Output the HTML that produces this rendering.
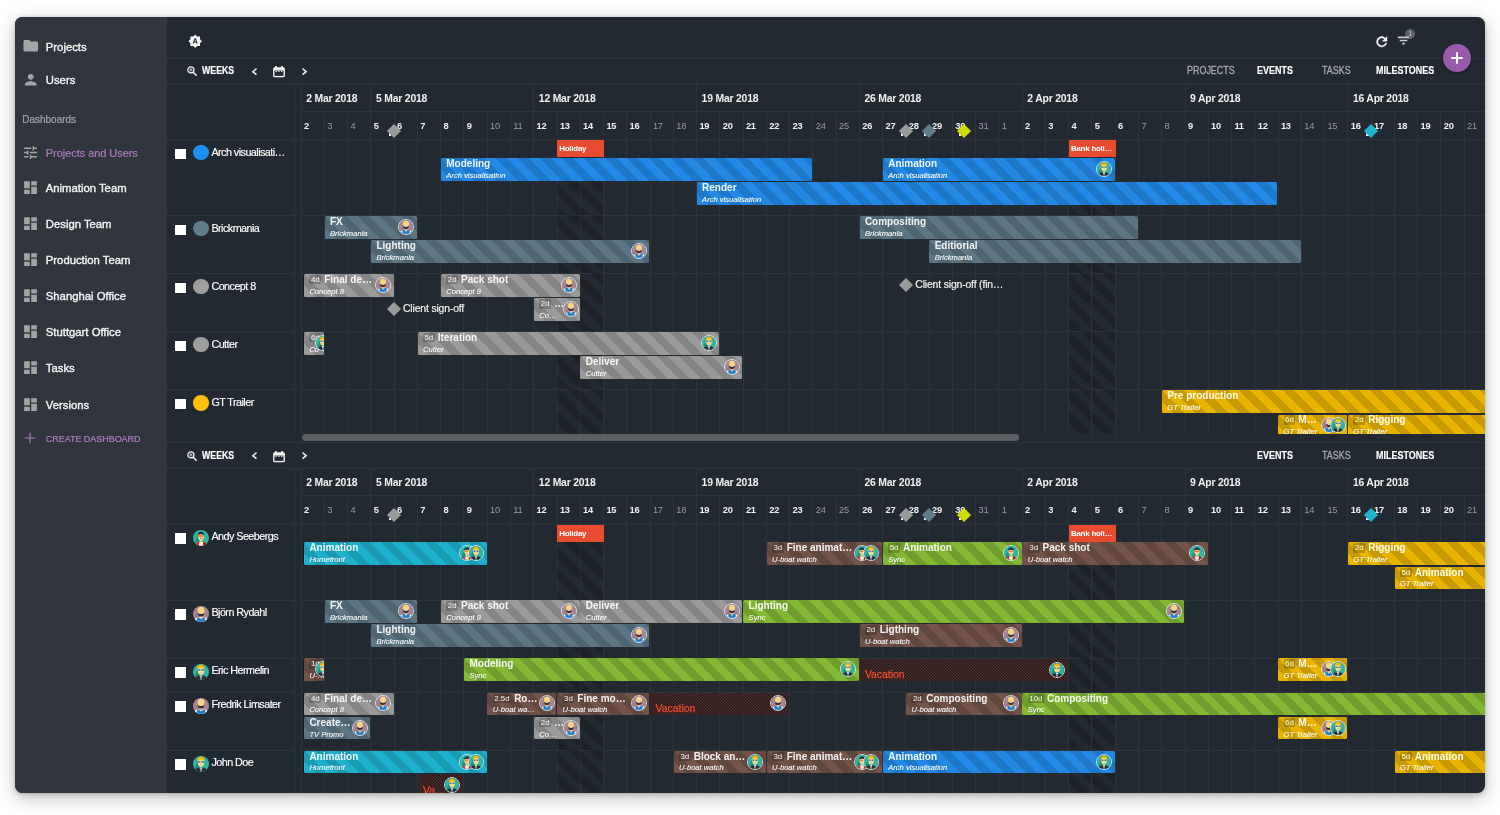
<!DOCTYPE html>
<html lang="en"><head><meta charset="utf-8"><title>Projects and Users</title>
<style>
*{box-sizing:border-box;margin:0;padding:0}
html,body{width:1500px;height:815px;background:#fff;overflow:hidden}
body{font-family:"Liberation Sans",sans-serif;color:#fff;position:relative}
.win{position:absolute;left:15px;top:17px;width:1470px;height:776px;border-radius:7.5px;background:#232930;overflow:hidden;box-shadow:0 5px 18px rgba(0,0,0,.26),0 1px 4px rgba(0,0,0,.2)}
.in{position:absolute;left:-15px;top:-17px;width:1500px;height:815px}
.a{position:absolute}
.side{position:absolute;left:15px;top:17px;width:152px;height:776px;background:#31363e}
.nav{position:absolute;left:45.8px;font-size:11.3px;font-weight:400;color:#f4f4f4;white-space:nowrap;letter-spacing:0;line-height:14px;-webkit-text-stroke:.35px #f4f4f4}
.nav.p{color:#b07cc4;font-size:11px;letter-spacing:-.05px;-webkit-text-stroke:.15px #b07cc4}
.nav.c{color:#b07cc4;font-size:8.95px;letter-spacing:0;-webkit-text-stroke:.2px #b07cc4}
.ico{position:absolute;fill:#a4a4a4}
.hl{position:absolute;height:1px;background:#2d333a}
.vl{position:absolute;width:1px;background:#2d333a}
.wk{position:absolute;font-size:10.4px;font-weight:700;color:#f0f0f0;white-space:nowrap;letter-spacing:-.2px;line-height:14px}
.dn{position:absolute;font-size:9.3px;font-weight:700;color:#f0f0f0;white-space:nowrap;line-height:12px;letter-spacing:-.2px}
.dn.w{color:#9b9b9b;font-weight:400}
.tb{position:absolute;font-size:10.2px;font-weight:700;white-space:nowrap;line-height:12px;letter-spacing:0;color:#fff;transform:scaleX(.88);transform-origin:0 50%;-webkit-text-stroke:.15px #fff}
.tb.g{color:#a6a9ad;font-weight:400;letter-spacing:0;font-size:10px;-webkit-text-stroke:.3px #a6a9ad;transform:scaleX(.895)}
.lab{position:absolute;left:211.4px;font-size:10.8px;color:#fff;white-space:nowrap;line-height:14px;letter-spacing:-.55px;-webkit-text-stroke:.15px #fff}
.cb{position:absolute;left:175.2px;width:10.6px;height:10.6px;background:#fff}
.dot{position:absolute;left:193px;width:15.6px;height:15.6px;border-radius:50%}
.bar{position:absolute;height:22.6px;border-radius:1.5px;overflow:hidden;white-space:nowrap}
.bar .t{position:absolute;left:5.4px;top:-1.1px;font-size:10px;font-weight:700;line-height:13px;color:rgba(255,255,255,.93);letter-spacing:0}
.bar .s{position:absolute;left:5.4px;top:12.7px;font-size:7.6px;font-style:italic;line-height:9px;color:rgba(255,255,255,.95);letter-spacing:0;-webkit-text-stroke:.12px rgba(255,255,255,.9)}
.bar .b{display:inline-block;font-size:7.9px;font-weight:400;background:rgba(0,0,0,.2);border-radius:1.5px;padding:0 1.5px;margin-right:3px;vertical-align:1px;line-height:9.5px;letter-spacing:0}
.av{position:absolute;top:2.9px;width:16px;height:16px;border-radius:50%;border:.9px solid rgba(226,238,246,.86);overflow:hidden}
.av svg,.dot svg{display:block;width:100%;height:100%}
.ev{position:absolute;height:17.2px;background:#e74b30;font-size:7.9px;font-weight:700;color:#fff;line-height:17px;padding-left:2px;white-space:nowrap;overflow:hidden;letter-spacing:-.2px}
.hol{position:absolute;overflow:hidden}
.hol i{position:absolute;left:0;top:0;width:100%;height:87.56px;background:repeating-linear-gradient(45deg,rgba(0,0,0,0) 0,rgba(0,0,0,0) 7.74px,rgba(0,0,0,.17) 7.74px,rgba(0,0,0,.17) 15.48px)}
.vac{position:absolute;height:22.6px;overflow:hidden;white-space:nowrap;background-color:#231f22;background-image:repeating-linear-gradient(45deg,rgba(215,62,38,0) 0,rgba(215,62,38,0) 1.1px,rgba(215,62,38,.36) 1.1px,rgba(215,62,38,.36) 2.12px)}
.vac .t{position:absolute;left:5.4px;top:9px;font-size:10.4px;color:#ea4a2f;line-height:13px;-webkit-text-stroke:.25px #ea4a2f}
.ms{position:absolute;width:10px;height:10px;transform:rotate(45deg)}
.mst{position:absolute;font-size:10.4px;color:#f0f0f0;white-space:nowrap;line-height:13px;letter-spacing:-.15px;-webkit-text-stroke:.2px #f0f0f0}
.clip{position:absolute;overflow:hidden}
</style></head>
<body>
<div class="win"><div class="in">
<div class="side"></div>
<svg class="ico" style="left:22.2px;top:37.400px" width="17.500" height="17.500" viewBox="0 0 24 24"><path d="M10 4H4c-1.100 0-1.990.9-1.990 2L2 18c0 1.100.9 2 2 2h16c1.100 0 2-.9 2-2V8c0-1.100-.9-2-2-2h-8l-2-2z"/></svg>
<div class="nav" style="top:40.200px">Projects</div>
<svg class="ico" style="left:21.800px;top:71.200px" width="17.500" height="17.500" viewBox="0 0 24 24"><path d="M12 12c2.210 0 4-1.790 4-4s-1.790-4-4-4-4 1.790-4 4 1.790 4 4 4zm0 2c-2.670 0-8 1.340-8 4v2h16v-2c0-2.660-5.330-4-8-4z"/></svg>
<div class="nav" style="top:73.400px">Users</div>
<div class="nav" style="left:22.200px;top:112.800px;font-size:10px;font-weight:400;color:#a2a4a7;letter-spacing:0;-webkit-text-stroke:.2px #a2a4a7">Dashboards</div>
<svg class="ico" style="left:22.300px;top:144.300px" width="17" height="17" viewBox="0 0 24 24"><path d="M3 17v2h6v-2H3zM3 5v2h10V5H3zm10 16v-2h8v-2h-8v-2h-2v6h2zM7 9v2H3v2h4v2h2V9H7zm14 4v-2H11v2h10zm-6-4h2V7h4V5h-4V3h-2v6z"/></svg>
<div class="nav p" style="top:146.300px">Projects and Users</div>
<svg class="ico" style="left:22.300px;top:178.6px" width="17" height="17" viewBox="0 0 24 24"><path d="M3 13h8V3H3v10zm0 8h8v-6H3v6zm10 0h8V11h-8v10zm0-18v6h8V3h-8z"/></svg>
<div class="nav" style="top:180.6px">Animation Team</div>
<svg class="ico" style="left:22.300px;top:215.0px" width="17" height="17" viewBox="0 0 24 24"><path d="M3 13h8V3H3v10zm0 8h8v-6H3v6zm10 0h8V11h-8v10zm0-18v6h8V3h-8z"/></svg>
<div class="nav" style="top:217.0px">Design Team</div>
<svg class="ico" style="left:22.300px;top:251.2px" width="17" height="17" viewBox="0 0 24 24"><path d="M3 13h8V3H3v10zm0 8h8v-6H3v6zm10 0h8V11h-8v10zm0-18v6h8V3h-8z"/></svg>
<div class="nav" style="top:253.2px">Production Team</div>
<svg class="ico" style="left:22.300px;top:287.2px" width="17" height="17" viewBox="0 0 24 24"><path d="M3 13h8V3H3v10zm0 8h8v-6H3v6zm10 0h8V11h-8v10zm0-18v6h8V3h-8z"/></svg>
<div class="nav" style="top:289.2px">Shanghai Office</div>
<svg class="ico" style="left:22.300px;top:323.4px" width="17" height="17" viewBox="0 0 24 24"><path d="M3 13h8V3H3v10zm0 8h8v-6H3v6zm10 0h8V11h-8v10zm0-18v6h8V3h-8z"/></svg>
<div class="nav" style="top:325.4px">Stuttgart Office</div>
<svg class="ico" style="left:22.300px;top:359.4px" width="17" height="17" viewBox="0 0 24 24"><path d="M3 13h8V3H3v10zm0 8h8v-6H3v6zm10 0h8V11h-8v10zm0-18v6h8V3h-8z"/></svg>
<div class="nav" style="top:361.4px">Tasks</div>
<svg class="ico" style="left:22.300px;top:395.6px" width="17" height="17" viewBox="0 0 24 24"><path d="M3 13h8V3H3v10zm0 8h8v-6H3v6zm10 0h8V11h-8v10zm0-18v6h8V3h-8z"/></svg>
<div class="nav" style="top:397.6px">Versions</div>
<svg class="a" style="left:24.300px;top:432.300px" width="12" height="12" viewBox="0 0 12 12" stroke="#b07cc4" stroke-width="1.100" fill="none"><path d="M6 .8v10.400M.8 6h10.400"/></svg>
<div class="nav c" style="top:431.600px">CREATE DASHBOARD</div>
<svg class="a" style="left:188.400px;top:34.300px" width="14.400" height="14.400" viewBox="0 0 24 24" fill="#f4f4f4"><path d="M10.850 12.650h2.300L12 9l-1.150 3.650zM20 8.690V4h-4.690L12 .69 8.690 4H4v4.690L.69 12 4 15.310V20h4.690L12 23.310 15.310 20H20v-4.690L23.310 12 20 8.690zM14.300 16l-.7-2h-3.200l-.7 2H7.800L11 7h2l3.200 9h-1.900z"/></svg>
<svg class="a" style="left:1373.600px;top:33.800px" width="15.600" height="15.600" viewBox="0 0 24 24" fill="#f4f4f4" stroke="#f4f4f4" stroke-width=".7"><path d="M17.650 6.350C16.200 4.900 14.210 4 12 4c-4.420 0-7.990 3.580-7.990 8s3.570 8 7.990 8c3.730 0 6.840-2.550 7.730-6h-2.080c-.82 2.330-3.040 4-5.650 4-3.310 0-6-2.690-6-6s2.690-6 6-6c1.660 0 3.140.69 4.220 1.780L13 11h7V4l-2.350 2.350z"/></svg>
<div class="a" style="left:1405.200px;top:28.800px;width:10.200px;height:10.200px;border-radius:50%;background:#5d6167;color:#d0d0d0;font-size:6.500px;line-height:10.200px;text-align:center">1</div>
<svg class="a" style="left:1395.6px;top:33.400px" width="15" height="15" viewBox="0 0 24 24" fill="#c6c8ca"><path d="M10 18.300h4v-2.600h-4zM3 5.700v2.600h18V5.700zm3 7.600h12v-2.600H6z"/></svg>
<div class="hl" style="left:167.0px;width:1318.0px;top:58.0px"></div>
<div class="hl" style="left:167.0px;width:1318.0px;top:83.4px"></div>
<svg class="a" style="left:186.6px;top:65.8px" width="10.4" height="10.4" viewBox="0 0 10.4 10.4" fill="none" stroke="#f2f2f2"><circle cx="3.900" cy="3.900" r="3.050" stroke-width="1.250"/><path d="M6.200 6.200L9.700 9.700" stroke-width="1.500"/><path d="M3.900 2.300v3.200M2.300 3.900h3.200" stroke-width=".8"/></svg>
<div class="tb" style="left:201.8px;top:65.4px;transform:scaleX(.862)">WEEKS</div>
<svg class="a" style="left:250.8px;top:67.5px" width="7" height="8" viewBox="0 0 7 8" fill="none" stroke="#f2f2f2" stroke-width="1.500"><path d="M5.500 .7L1.800 3.700l3.700 3"/></svg>
<svg class="a" style="left:301px;top:67.5px" width="7" height="8" viewBox="0 0 7 8" fill="none" stroke="#f2f2f2" stroke-width="1.500"><path d="M1.500 .7L5.200 3.700l-3.700 3"/></svg>
<svg class="a" style="left:273.2px;top:65.9px" width="12" height="12" viewBox="0 0 12 12"><rect x=".1" y="1.300" width="11.800" height="10" rx="1.600" fill="#f2f2f2"/><rect x="2.100" y="0" width="1.700" height="2" fill="#f2f2f2"/><rect x="8.200" y="0" width="1.700" height="2" fill="#f2f2f2"/><rect x="1.500" y="4.600" width="9" height="5.300" fill="#232930"/><path d="M2.600 5.500h1.300M5.300 5.500h1.300M8 5.500h1.300" stroke="#e8e8e8" stroke-width="1"/></svg>
<div class="tb g" style="left:1187px;top:65.3px">PROJECTS</div>
<div class="tb" style="left:1256.6px;top:65.3px">EVENTS</div>
<div class="tb g" style="left:1322.3px;top:65.3px">TASKS</div>
<div class="tb" style="left:1376.3px;top:65.3px">MILESTONES</div>
<div class="hl" style="left:167.0px;width:1318.0px;top:442.4px"></div>
<div class="hl" style="left:167.0px;width:1318.0px;top:467.8px"></div>
<svg class="a" style="left:186.6px;top:450.7px" width="10.4" height="10.4" viewBox="0 0 10.4 10.4" fill="none" stroke="#f2f2f2"><circle cx="3.900" cy="3.900" r="3.050" stroke-width="1.250"/><path d="M6.200 6.200L9.700 9.700" stroke-width="1.500"/><path d="M3.900 2.300v3.200M2.300 3.900h3.200" stroke-width=".8"/></svg>
<div class="tb" style="left:201.8px;top:450.3px;transform:scaleX(.862)">WEEKS</div>
<svg class="a" style="left:250.8px;top:452.4px" width="7" height="8" viewBox="0 0 7 8" fill="none" stroke="#f2f2f2" stroke-width="1.500"><path d="M5.500 .7L1.800 3.700l3.700 3"/></svg>
<svg class="a" style="left:301px;top:452.4px" width="7" height="8" viewBox="0 0 7 8" fill="none" stroke="#f2f2f2" stroke-width="1.500"><path d="M1.500 .7L5.200 3.700l-3.700 3"/></svg>
<svg class="a" style="left:273.2px;top:450.8px" width="12" height="12" viewBox="0 0 12 12"><rect x=".1" y="1.300" width="11.800" height="10" rx="1.600" fill="#f2f2f2"/><rect x="2.100" y="0" width="1.700" height="2" fill="#f2f2f2"/><rect x="8.200" y="0" width="1.700" height="2" fill="#f2f2f2"/><rect x="1.500" y="4.600" width="9" height="5.300" fill="#232930"/><path d="M2.600 5.500h1.300M5.300 5.500h1.300M8 5.500h1.300" stroke="#e8e8e8" stroke-width="1"/></svg>
<div class="tb" style="left:1256.6px;top:450.2px">EVENTS</div>
<div class="tb g" style="left:1322.3px;top:450.2px">TASKS</div>
<div class="tb" style="left:1376.3px;top:450.2px">MILESTONES</div>
<div class="clip" style="left:0;top:83.400px;width:1500px;height:350.600px"><div class="a" style="left:0;top:-83.400px;width:1500px;height:815px">
<div class="hl" style="left:301.6px;width:1183.4px;top:111.0px"></div>
<div class="hl" style="left:167.0px;width:1318.0px;top:139.4px"></div>
<div class="vl" style="left:294.2px;top:83.4px;height:350.6px"></div>
<div class="vl" style="left:301.0px;top:83.4px;height:350.6px"></div>
<div class="wk" style="left:306.2px;top:91.7px">2 Mar 2018</div>
<div class="vl" style="left:370.4px;top:83.4px;height:27.6px"></div>
<div class="wk" style="left:376.0px;top:91.7px">5 Mar 2018</div>
<div class="vl" style="left:533.2px;top:83.4px;height:27.6px"></div>
<div class="wk" style="left:538.8px;top:91.7px">12 Mar 2018</div>
<div class="vl" style="left:696.0px;top:83.4px;height:27.6px"></div>
<div class="wk" style="left:701.6px;top:91.7px">19 Mar 2018</div>
<div class="vl" style="left:858.8px;top:83.4px;height:27.6px"></div>
<div class="wk" style="left:864.4px;top:91.7px">26 Mar 2018</div>
<div class="vl" style="left:1021.7px;top:83.4px;height:27.6px"></div>
<div class="wk" style="left:1027.3px;top:91.7px">2 Apr 2018</div>
<div class="vl" style="left:1184.5px;top:83.4px;height:27.6px"></div>
<div class="wk" style="left:1190.1px;top:91.7px">9 Apr 2018</div>
<div class="vl" style="left:1347.3px;top:83.4px;height:27.6px"></div>
<div class="wk" style="left:1352.9px;top:91.7px">16 Apr 2018</div>
<div class="dn" style="left:304.0px;top:119.5px">2</div>
<div class="vl" style="left:323.9px;top:111.0px;height:323.0px"></div>
<div class="dn w" style="left:327.3px;top:119.5px">3</div>
<div class="vl" style="left:347.1px;top:111.0px;height:323.0px"></div>
<div class="dn w" style="left:350.5px;top:119.5px">4</div>
<div class="vl" style="left:370.4px;top:111.0px;height:323.0px"></div>
<div class="dn" style="left:373.8px;top:119.5px">5</div>
<div class="vl" style="left:393.6px;top:111.0px;height:323.0px"></div>
<div class="dn" style="left:397.0px;top:119.5px">6</div>
<div class="vl" style="left:416.9px;top:111.0px;height:323.0px"></div>
<div class="dn" style="left:420.3px;top:119.5px">7</div>
<div class="vl" style="left:440.2px;top:111.0px;height:323.0px"></div>
<div class="dn" style="left:443.6px;top:119.5px">8</div>
<div class="vl" style="left:463.4px;top:111.0px;height:323.0px"></div>
<div class="dn" style="left:466.8px;top:119.5px">9</div>
<div class="vl" style="left:486.7px;top:111.0px;height:323.0px"></div>
<div class="dn w" style="left:490.1px;top:119.5px">10</div>
<div class="vl" style="left:509.9px;top:111.0px;height:323.0px"></div>
<div class="dn w" style="left:513.3px;top:119.5px">11</div>
<div class="vl" style="left:533.2px;top:111.0px;height:323.0px"></div>
<div class="dn" style="left:536.6px;top:119.5px">12</div>
<div class="vl" style="left:556.5px;top:111.0px;height:323.0px"></div>
<div class="dn" style="left:559.9px;top:119.5px">13</div>
<div class="vl" style="left:579.7px;top:111.0px;height:323.0px"></div>
<div class="dn" style="left:583.1px;top:119.5px">14</div>
<div class="vl" style="left:603.0px;top:111.0px;height:323.0px"></div>
<div class="dn" style="left:606.4px;top:119.5px">15</div>
<div class="vl" style="left:626.2px;top:111.0px;height:323.0px"></div>
<div class="dn" style="left:629.6px;top:119.5px">16</div>
<div class="vl" style="left:649.5px;top:111.0px;height:323.0px"></div>
<div class="dn w" style="left:652.9px;top:119.5px">17</div>
<div class="vl" style="left:672.8px;top:111.0px;height:323.0px"></div>
<div class="dn w" style="left:676.2px;top:119.5px">18</div>
<div class="vl" style="left:696.0px;top:111.0px;height:323.0px"></div>
<div class="dn" style="left:699.4px;top:119.5px">19</div>
<div class="vl" style="left:719.3px;top:111.0px;height:323.0px"></div>
<div class="dn" style="left:722.7px;top:119.5px">20</div>
<div class="vl" style="left:742.5px;top:111.0px;height:323.0px"></div>
<div class="dn" style="left:745.9px;top:119.5px">21</div>
<div class="vl" style="left:765.8px;top:111.0px;height:323.0px"></div>
<div class="dn" style="left:769.2px;top:119.5px">22</div>
<div class="vl" style="left:789.1px;top:111.0px;height:323.0px"></div>
<div class="dn" style="left:792.5px;top:119.5px">23</div>
<div class="vl" style="left:812.3px;top:111.0px;height:323.0px"></div>
<div class="dn w" style="left:815.7px;top:119.5px">24</div>
<div class="vl" style="left:835.6px;top:111.0px;height:323.0px"></div>
<div class="dn w" style="left:839.0px;top:119.5px">25</div>
<div class="vl" style="left:858.8px;top:111.0px;height:323.0px"></div>
<div class="dn" style="left:862.2px;top:119.5px">26</div>
<div class="vl" style="left:882.1px;top:111.0px;height:323.0px"></div>
<div class="dn" style="left:885.5px;top:119.5px">27</div>
<div class="vl" style="left:905.4px;top:111.0px;height:323.0px"></div>
<div class="dn" style="left:908.8px;top:119.5px">28</div>
<div class="vl" style="left:928.6px;top:111.0px;height:323.0px"></div>
<div class="dn" style="left:932.0px;top:119.5px">29</div>
<div class="vl" style="left:951.9px;top:111.0px;height:323.0px"></div>
<div class="dn" style="left:955.3px;top:119.5px">30</div>
<div class="vl" style="left:975.1px;top:111.0px;height:323.0px"></div>
<div class="dn w" style="left:978.5px;top:119.5px">31</div>
<div class="vl" style="left:998.4px;top:111.0px;height:323.0px"></div>
<div class="dn w" style="left:1001.8px;top:119.5px">1</div>
<div class="vl" style="left:1021.7px;top:111.0px;height:323.0px"></div>
<div class="dn" style="left:1025.1px;top:119.5px">2</div>
<div class="vl" style="left:1044.9px;top:111.0px;height:323.0px"></div>
<div class="dn" style="left:1048.3px;top:119.5px">3</div>
<div class="vl" style="left:1068.2px;top:111.0px;height:323.0px"></div>
<div class="dn" style="left:1071.6px;top:119.5px">4</div>
<div class="vl" style="left:1091.4px;top:111.0px;height:323.0px"></div>
<div class="dn" style="left:1094.8px;top:119.5px">5</div>
<div class="vl" style="left:1114.7px;top:111.0px;height:323.0px"></div>
<div class="dn" style="left:1118.1px;top:119.5px">6</div>
<div class="vl" style="left:1138.0px;top:111.0px;height:323.0px"></div>
<div class="dn w" style="left:1141.4px;top:119.5px">7</div>
<div class="vl" style="left:1161.2px;top:111.0px;height:323.0px"></div>
<div class="dn w" style="left:1164.6px;top:119.5px">8</div>
<div class="vl" style="left:1184.5px;top:111.0px;height:323.0px"></div>
<div class="dn" style="left:1187.9px;top:119.5px">9</div>
<div class="vl" style="left:1207.7px;top:111.0px;height:323.0px"></div>
<div class="dn" style="left:1211.1px;top:119.5px">10</div>
<div class="vl" style="left:1231.0px;top:111.0px;height:323.0px"></div>
<div class="dn" style="left:1234.4px;top:119.5px">11</div>
<div class="vl" style="left:1254.3px;top:111.0px;height:323.0px"></div>
<div class="dn" style="left:1257.7px;top:119.5px">12</div>
<div class="vl" style="left:1277.5px;top:111.0px;height:323.0px"></div>
<div class="dn" style="left:1280.9px;top:119.5px">13</div>
<div class="vl" style="left:1300.8px;top:111.0px;height:323.0px"></div>
<div class="dn w" style="left:1304.2px;top:119.5px">14</div>
<div class="vl" style="left:1324.0px;top:111.0px;height:323.0px"></div>
<div class="dn w" style="left:1327.4px;top:119.5px">15</div>
<div class="vl" style="left:1347.3px;top:111.0px;height:323.0px"></div>
<div class="dn" style="left:1350.7px;top:119.5px">16</div>
<div class="vl" style="left:1370.6px;top:111.0px;height:323.0px"></div>
<div class="dn" style="left:1374.0px;top:119.5px">17</div>
<div class="vl" style="left:1393.8px;top:111.0px;height:323.0px"></div>
<div class="dn" style="left:1397.2px;top:119.5px">18</div>
<div class="vl" style="left:1417.1px;top:111.0px;height:323.0px"></div>
<div class="dn" style="left:1420.5px;top:119.5px">19</div>
<div class="vl" style="left:1440.3px;top:111.0px;height:323.0px"></div>
<div class="dn" style="left:1443.7px;top:119.5px">20</div>
<div class="vl" style="left:1463.6px;top:111.0px;height:323.0px"></div>
<div class="dn w" style="left:1467.0px;top:119.5px">21</div>
<div class="hl" style="left:167.0px;width:127.2px;top:215.2px"></div>
<div class="hl" style="left:301.6px;width:1183.4px;top:215.2px"></div>
<div class="hl" style="left:167.0px;width:127.2px;top:273.4px"></div>
<div class="hl" style="left:301.6px;width:1183.4px;top:273.4px"></div>
<div class="hl" style="left:167.0px;width:127.2px;top:331.4px"></div>
<div class="hl" style="left:301.6px;width:1183.4px;top:331.4px"></div>
<div class="hl" style="left:167.0px;width:127.2px;top:389.4px"></div>
<div class="hl" style="left:301.6px;width:1183.4px;top:389.4px"></div>
<div class="a" style="left:388.5px;top:133.4px;width:2.4px;height:2.4px;background:#f4f4f4"></div>
<div class="ms" style="left:388.5px;top:125.8px;background:#9b9b9b"></div>
<div class="a" style="left:900.8px;top:133.4px;width:2.4px;height:2.4px;background:#f4f4f4"></div>
<div class="ms" style="left:900.8px;top:125.8px;background:#9b9b9b"></div>
<div class="a" style="left:924.1px;top:133.4px;width:2.4px;height:2.4px;background:#f4f4f4"></div>
<div class="ms" style="left:924.1px;top:125.8px;background:#5e7c8b"></div>
<div class="a" style="left:958.6px;top:133.4px;width:2.4px;height:2.4px;background:#f4f4f4"></div>
<div class="ms" style="left:958.6px;top:125.8px;background:#cfdc00"></div>
<div class="a" style="left:1366.2px;top:133.4px;width:2.4px;height:2.4px;background:#f4f4f4"></div>
<div class="ms" style="left:1366.2px;top:125.8px;background:#1fb3cf"></div>
<div class="hol" style="left:557px;top:157.0px;width:23px;height:58.2px"><i style="top:-17.6px"></i></div>
<div class="hol" style="left:557px;top:215.2px;width:23px;height:58.2px"><i></i></div>
<div class="hol" style="left:557px;top:273.4px;width:23px;height:58.0px"><i></i></div>
<div class="hol" style="left:557px;top:331.4px;width:23px;height:58.0px"><i></i></div>
<div class="hol" style="left:557px;top:389.4px;width:23px;height:44.6px"><i></i></div>
<div class="hol" style="left:580px;top:157.0px;width:23px;height:58.2px"><i style="top:-17.6px"></i></div>
<div class="hol" style="left:580px;top:215.2px;width:23px;height:58.2px"><i></i></div>
<div class="hol" style="left:580px;top:273.4px;width:23px;height:58.0px"><i></i></div>
<div class="hol" style="left:580px;top:331.4px;width:23px;height:58.0px"><i></i></div>
<div class="hol" style="left:580px;top:389.4px;width:23px;height:44.6px"><i></i></div>
<div class="hol" style="left:1069px;top:157.0px;width:22px;height:58.2px"><i style="top:-17.6px"></i></div>
<div class="hol" style="left:1069px;top:215.2px;width:22px;height:58.2px"><i></i></div>
<div class="hol" style="left:1069px;top:273.4px;width:22px;height:58.0px"><i></i></div>
<div class="hol" style="left:1069px;top:331.4px;width:22px;height:58.0px"><i></i></div>
<div class="hol" style="left:1069px;top:389.4px;width:22px;height:44.6px"><i></i></div>
<div class="hol" style="left:1092px;top:157.0px;width:23px;height:58.2px"><i style="top:-17.6px"></i></div>
<div class="hol" style="left:1092px;top:215.2px;width:23px;height:58.2px"><i></i></div>
<div class="hol" style="left:1092px;top:273.4px;width:23px;height:58.0px"><i></i></div>
<div class="hol" style="left:1092px;top:331.4px;width:23px;height:58.0px"><i></i></div>
<div class="hol" style="left:1092px;top:389.4px;width:23px;height:44.6px"><i></i></div>
<div class="cb" style="top:148.5px"></div>
<div class="dot" style="top:144.8px;background:#1e90f5"></div>
<div class="lab" style="top:144.5px">Arch visualisati…</div>
<div class="cb" style="top:224.5px"></div>
<div class="dot" style="top:220.8px;background:#607d8b"></div>
<div class="lab" style="top:220.5px">Brickmania</div>
<div class="cb" style="top:282.5px"></div>
<div class="dot" style="top:278.8px;background:#9e9e9e"></div>
<div class="lab" style="top:278.5px">Concept 8</div>
<div class="cb" style="top:340.6px"></div>
<div class="dot" style="top:336.9px;background:#9e9e9e"></div>
<div class="lab" style="top:336.6px">Cutter</div>
<div class="cb" style="top:398.7px"></div>
<div class="dot" style="top:395.0px;background:#fbc107"></div>
<div class="lab" style="top:394.7px">GT Trailer</div>
<div class="ev" style="left:557.2px;top:140.0px;width:46.8px">Holiday</div>
<div class="ev" style="left:1068.9px;top:140.0px;width:46.8px">Bank holi…</div>
<div class="bar" style="left:440.9px;top:158.0px;width:371.4px;background-color:#2389e4;background-image:repeating-linear-gradient(45deg,#1e78c9 0,#1e78c9 .7px,#2389e4 .7px,#2389e4 8.44px,#1e78c9 8.44px,#1e78c9 15.48px)"><div class="t">Modeling</div><div class="s">Arch visualisation</div></div>
<div class="bar" style="left:882.8px;top:158.0px;width:231.8px;background-color:#2389e4;background-image:repeating-linear-gradient(45deg,#1e78c9 0,#1e78c9 .7px,#2389e4 .7px,#2389e4 8.44px,#1e78c9 8.44px,#1e78c9 15.48px)"><div class="t">Animation</div><div class="s">Arch visualisation</div><div class="av" style="right:2.6px"><svg viewBox="0 0 16 16"><rect width="16" height="16" fill="#2fb5a6"/><path d="M0 16L4.500 5l3.500 8z" fill="#23907f"/><g transform="translate(-1.28,-1.96) scale(1.16)"><path d="M2.300 16c.3-2.800 1.800-3.900 3.800-4.300h3.800c2 .4 3.500 1.500 3.800 4.300z" fill="#2f2b2e"/><path d="M6.700 11.500h2.600L8 16z" fill="#dfe6ea"/><path d="M7.600 12.300h.8l.4 3.700h-1.600z" fill="#5b7f95"/><ellipse cx="8" cy="7.400" rx="2.700" ry="3.700" fill="#f6df94"/><path d="M4.900 6.500c-.4-3 1.300-4.400 3.100-4.400s3.500 1.400 3.100 4.400c-.6-1.300-1.300-1.700-3.100-1.700s-2.500.4-3.100 1.700z" fill="#f7b500"/><rect x="5.600" y="6" width="2" height="1.500" rx=".4" fill="#59728a"/><rect x="8.400" y="6" width="2" height="1.500" rx=".4" fill="#59728a"/><circle cx="8" cy="9.300" r=".4" fill="#d9534f"/></g></svg></div></div>
<div class="bar" style="left:696.7px;top:182.0px;width:580.7px;background-color:#2389e4;background-image:repeating-linear-gradient(45deg,#1e78c9 0,#1e78c9 .7px,#2389e4 .7px,#2389e4 8.44px,#1e78c9 8.44px,#1e78c9 15.48px)"><div class="t">Render</div><div class="s">Arch visualisation</div></div>
<div class="bar" style="left:324.6px;top:216.0px;width:92.2px;background-color:#5d7685;background-image:repeating-linear-gradient(45deg,#4f6572 0,#4f6572 .7px,#5d7685 .7px,#5d7685 8.44px,#4f6572 8.44px,#4f6572 15.48px)"><div class="t">FX</div><div class="s">Brickmania</div><div class="av" style="right:2.6px"><svg viewBox="0 0 16 16"><rect width="16" height="16" fill="#ab8494"/><path d="M0 16L5 4l3 8z" fill="#9c7485"/><g transform="translate(-1.12,-1.94) scale(1.14)"><path d="M1.5 16c.3-3 2-4.2 4-4.6h5c2 .4 3.700 1.600 4 4.600z" fill="#fff"/><path d="M4.300 16v-4.300h7.400V16z" fill="#1f7fd0"/><path d="M6.800 11h2.400v1.800L8 13.600l-1.200-.8z" fill="#f0c27a"/><ellipse cx="8" cy="5.800" rx="3" ry="3.500" fill="#f3d686"/><path d="M5.200 7.800c1 1.100 4.600 1.100 5.600 0 0 2-1.200 3-2.800 3s-2.800-1-2.800-3z" fill="#2b2b33"/><path d="M7 8.300h2" stroke="#f3d686" stroke-width=".5"/></g></svg></div></div>
<div class="bar" style="left:859.5px;top:216.0px;width:278.3px;background-color:#5d7685;background-image:repeating-linear-gradient(45deg,#4f6572 0,#4f6572 .7px,#5d7685 .7px,#5d7685 8.44px,#4f6572 8.44px,#4f6572 15.48px)"><div class="t">Compositing</div><div class="s">Brickmania</div></div>
<div class="bar" style="left:371.1px;top:240.2px;width:278.3px;background-color:#5d7685;background-image:repeating-linear-gradient(45deg,#4f6572 0,#4f6572 .7px,#5d7685 .7px,#5d7685 8.44px,#4f6572 8.44px,#4f6572 15.48px)"><div class="t">Lighting</div><div class="s">Brickmania</div><div class="av" style="right:2.6px"><svg viewBox="0 0 16 16"><rect width="16" height="16" fill="#ab8494"/><path d="M0 16L5 4l3 8z" fill="#9c7485"/><g transform="translate(-1.12,-1.94) scale(1.14)"><path d="M1.5 16c.3-3 2-4.2 4-4.6h5c2 .4 3.700 1.600 4 4.600z" fill="#fff"/><path d="M4.300 16v-4.300h7.400V16z" fill="#1f7fd0"/><path d="M6.800 11h2.400v1.800L8 13.600l-1.200-.8z" fill="#f0c27a"/><ellipse cx="8" cy="5.800" rx="3" ry="3.500" fill="#f3d686"/><path d="M5.200 7.800c1 1.100 4.600 1.100 5.600 0 0 2-1.200 3-2.800 3s-2.800-1-2.800-3z" fill="#2b2b33"/><path d="M7 8.300h2" stroke="#f3d686" stroke-width=".5"/></g></svg></div></div>
<div class="bar" style="left:929.3px;top:240.2px;width:371.4px;background-color:#5d7685;background-image:repeating-linear-gradient(45deg,#4f6572 0,#4f6572 .7px,#5d7685 .7px,#5d7685 8.44px,#4f6572 8.44px,#4f6572 15.48px)"><div class="t">Editiorial</div><div class="s">Brickmania</div></div>
<div class="a" style="left:302.6px;top:274.3px;width:1.6px;height:21.8px;background:#17181b"></div>
<div class="bar" style="left:304.0px;top:274.0px;width:89.5px;background-color:#9a9a9a;background-image:repeating-linear-gradient(45deg,#858585 0,#858585 .7px,#9a9a9a .7px,#9a9a9a 8.44px,#858585 8.44px,#858585 15.48px)"><div class="t"><span class="b">4d</span>Final de…</div><div class="s">Concept 8</div><div class="av" style="right:2.6px"><svg viewBox="0 0 16 16"><rect width="16" height="16" fill="#ab8494"/><path d="M0 16L5 4l3 8z" fill="#9c7485"/><g transform="translate(-1.12,-1.94) scale(1.14)"><path d="M1.5 16c.3-3 2-4.2 4-4.6h5c2 .4 3.700 1.600 4 4.600z" fill="#fff"/><path d="M4.300 16v-4.300h7.400V16z" fill="#1f7fd0"/><path d="M6.800 11h2.400v1.800L8 13.600l-1.200-.8z" fill="#f0c27a"/><ellipse cx="8" cy="5.800" rx="3" ry="3.500" fill="#f3d686"/><path d="M5.200 7.800c1 1.100 4.600 1.100 5.600 0 0 2-1.200 3-2.800 3s-2.800-1-2.800-3z" fill="#2b2b33"/><path d="M7 8.300h2" stroke="#f3d686" stroke-width=".5"/></g></svg></div></div>
<div class="bar" style="left:440.9px;top:274.0px;width:138.8px;background-color:#9a9a9a;background-image:repeating-linear-gradient(45deg,#858585 0,#858585 .7px,#9a9a9a .7px,#9a9a9a 8.44px,#858585 8.44px,#858585 15.48px)"><div class="t"><span class="b">2d</span>Pack shot</div><div class="s">Concept 8</div><div class="av" style="right:2.6px"><svg viewBox="0 0 16 16"><rect width="16" height="16" fill="#ab8494"/><path d="M0 16L5 4l3 8z" fill="#9c7485"/><g transform="translate(-1.12,-1.94) scale(1.14)"><path d="M1.5 16c.3-3 2-4.2 4-4.6h5c2 .4 3.700 1.600 4 4.600z" fill="#fff"/><path d="M4.300 16v-4.300h7.400V16z" fill="#1f7fd0"/><path d="M6.800 11h2.400v1.800L8 13.600l-1.200-.8z" fill="#f0c27a"/><ellipse cx="8" cy="5.800" rx="3" ry="3.500" fill="#f3d686"/><path d="M5.200 7.800c1 1.100 4.600 1.100 5.600 0 0 2-1.200 3-2.800 3s-2.800-1-2.800-3z" fill="#2b2b33"/><path d="M7 8.300h2" stroke="#f3d686" stroke-width=".5"/></g></svg></div></div>
<div class="bar" style="left:533.9px;top:298.4px;width:45.7px;background-color:#9a9a9a;background-image:repeating-linear-gradient(45deg,#858585 0,#858585 .7px,#9a9a9a .7px,#9a9a9a 8.44px,#858585 8.44px,#858585 15.48px)"><div class="t"><span class="b">2d</span>…</div><div class="s">Co…</div><div class="av" style="right:0.8px"><svg viewBox="0 0 16 16"><rect width="16" height="16" fill="#ab8494"/><path d="M0 16L5 4l3 8z" fill="#9c7485"/><g transform="translate(-1.12,-1.94) scale(1.14)"><path d="M1.5 16c.3-3 2-4.2 4-4.6h5c2 .4 3.700 1.600 4 4.600z" fill="#fff"/><path d="M4.300 16v-4.300h7.400V16z" fill="#1f7fd0"/><path d="M6.800 11h2.400v1.800L8 13.600l-1.200-.8z" fill="#f0c27a"/><ellipse cx="8" cy="5.800" rx="3" ry="3.500" fill="#f3d686"/><path d="M5.200 7.800c1 1.100 4.600 1.100 5.600 0 0 2-1.200 3-2.800 3s-2.800-1-2.800-3z" fill="#2b2b33"/><path d="M7 8.300h2" stroke="#f3d686" stroke-width=".5"/></g></svg></div></div>
<div class="ms" style="left:388.5px;top:303.9px;background:#9b9b9b"></div>
<div class="mst" style="left:403px;top:302.200px">Client sign-off</div>
<div class="ms" style="left:900.8px;top:279.9px;background:#9b9b9b"></div>
<div class="mst" style="left:915.300px;top:278.200px">Client sign-off (fin…</div>
<div class="a" style="left:302.6px;top:332.3px;width:1.6px;height:21.8px;background:#17181b"></div>
<div class="bar" style="left:304.0px;top:332.0px;width:19.8px;background-color:#9a9a9a;background-image:repeating-linear-gradient(45deg,#858585 0,#858585 .7px,#9a9a9a .7px,#9a9a9a 8.44px,#858585 8.44px,#858585 15.48px)"><div class="t"><span class="b">6d</span></div><div class="s">Co</div><div class="av" style="left:11px"><svg viewBox="0 0 16 16"><rect width="16" height="16" fill="#2fb5a6"/><path d="M0 16L4.500 5l3.500 8z" fill="#23907f"/><g transform="translate(-1.28,-1.96) scale(1.16)"><path d="M2.300 16c.3-2.800 1.800-3.900 3.800-4.300h3.800c2 .4 3.500 1.500 3.800 4.300z" fill="#2f2b2e"/><path d="M6.700 11.500h2.600L8 16z" fill="#dfe6ea"/><path d="M7.600 12.300h.8l.4 3.700h-1.600z" fill="#5b7f95"/><ellipse cx="8" cy="7.400" rx="2.700" ry="3.700" fill="#f6df94"/><path d="M4.900 6.500c-.4-3 1.300-4.400 3.100-4.400s3.500 1.400 3.100 4.400c-.6-1.300-1.300-1.700-3.100-1.700s-2.500.4-3.100 1.700z" fill="#f7b500"/><rect x="5.600" y="6" width="2" height="1.500" rx=".4" fill="#59728a"/><rect x="8.400" y="6" width="2" height="1.500" rx=".4" fill="#59728a"/><circle cx="8" cy="9.300" r=".4" fill="#d9534f"/></g></svg></div></div>
<div class="bar" style="left:417.6px;top:332.0px;width:301.6px;background-color:#9a9a9a;background-image:repeating-linear-gradient(45deg,#858585 0,#858585 .7px,#9a9a9a .7px,#9a9a9a 8.44px,#858585 8.44px,#858585 15.48px)"><div class="t"><span class="b">5d</span>Iteration</div><div class="s">Cutter</div><div class="av" style="right:2.6px"><svg viewBox="0 0 16 16"><rect width="16" height="16" fill="#2fb5a6"/><path d="M0 16L4.500 5l3.500 8z" fill="#23907f"/><g transform="translate(-1.28,-1.96) scale(1.16)"><path d="M2.300 16c.3-2.800 1.800-3.900 3.800-4.300h3.800c2 .4 3.500 1.500 3.800 4.300z" fill="#2f2b2e"/><path d="M6.700 11.500h2.600L8 16z" fill="#dfe6ea"/><path d="M7.600 12.300h.8l.4 3.700h-1.600z" fill="#5b7f95"/><ellipse cx="8" cy="7.400" rx="2.700" ry="3.700" fill="#f6df94"/><path d="M4.900 6.500c-.4-3 1.300-4.400 3.100-4.400s3.500 1.400 3.100 4.400c-.6-1.300-1.300-1.700-3.100-1.700s-2.500.4-3.100 1.700z" fill="#f7b500"/><rect x="5.600" y="6" width="2" height="1.500" rx=".4" fill="#59728a"/><rect x="8.400" y="6" width="2" height="1.500" rx=".4" fill="#59728a"/><circle cx="8" cy="9.300" r=".4" fill="#d9534f"/></g></svg></div></div>
<div class="bar" style="left:580.4px;top:356.4px;width:162.0px;background-color:#9a9a9a;background-image:repeating-linear-gradient(45deg,#858585 0,#858585 .7px,#9a9a9a .7px,#9a9a9a 8.44px,#858585 8.44px,#858585 15.48px)"><div class="t">Deliver</div><div class="s">Cutter</div><div class="av" style="right:2.6px"><svg viewBox="0 0 16 16"><rect width="16" height="16" fill="#ab8494"/><path d="M0 16L5 4l3 8z" fill="#9c7485"/><g transform="translate(-1.12,-1.94) scale(1.14)"><path d="M1.5 16c.3-3 2-4.2 4-4.6h5c2 .4 3.700 1.600 4 4.600z" fill="#fff"/><path d="M4.300 16v-4.300h7.400V16z" fill="#1f7fd0"/><path d="M6.800 11h2.400v1.800L8 13.600l-1.200-.8z" fill="#f0c27a"/><ellipse cx="8" cy="5.800" rx="3" ry="3.500" fill="#f3d686"/><path d="M5.200 7.800c1 1.100 4.600 1.100 5.600 0 0 2-1.200 3-2.800 3s-2.800-1-2.800-3z" fill="#2b2b33"/><path d="M7 8.300h2" stroke="#f3d686" stroke-width=".5"/></g></svg></div></div>
<div class="bar" style="left:1161.9px;top:390.3px;width:329.1px;background-color:#e8b400;background-image:repeating-linear-gradient(45deg,#c79a00 0,#c79a00 .7px,#e8b400 .7px,#e8b400 8.44px,#c79a00 8.44px,#c79a00 15.48px)"><div class="t">Pre production</div><div class="s">GT Trailer</div></div>
<div class="bar" style="left:1278.2px;top:414.5px;width:69.0px;background-color:#e8b400;background-image:repeating-linear-gradient(45deg,#c79a00 0,#c79a00 .7px,#e8b400 .7px,#e8b400 8.44px,#c79a00 8.44px,#c79a00 15.48px)"><div class="t"><span class="b">6d</span>M…</div><div class="s">GT Trailer</div><div class="av" style="right:10.1px"><svg viewBox="0 0 16 16"><rect width="16" height="16" fill="#ab8494"/><path d="M0 16L5 4l3 8z" fill="#9c7485"/><g transform="translate(-1.12,-1.94) scale(1.14)"><path d="M1.5 16c.3-3 2-4.2 4-4.6h5c2 .4 3.700 1.600 4 4.600z" fill="#fff"/><path d="M4.300 16v-4.300h7.400V16z" fill="#1f7fd0"/><path d="M6.800 11h2.400v1.800L8 13.600l-1.200-.8z" fill="#f0c27a"/><ellipse cx="8" cy="5.800" rx="3" ry="3.500" fill="#f3d686"/><path d="M5.200 7.800c1 1.100 4.600 1.100 5.600 0 0 2-1.200 3-2.800 3s-2.800-1-2.800-3z" fill="#2b2b33"/><path d="M7 8.300h2" stroke="#f3d686" stroke-width=".5"/></g></svg></div><div class="av" style="right:0.8px"><svg viewBox="0 0 16 16"><rect width="16" height="16" fill="#2fb5a6"/><path d="M0 16L4.500 5l3.500 8z" fill="#23907f"/><g transform="translate(-1.28,-1.96) scale(1.16)"><path d="M2.300 16c.3-2.800 1.800-3.900 3.800-4.300h3.800c2 .4 3.500 1.500 3.800 4.300z" fill="#2f2b2e"/><path d="M6.700 11.500h2.600L8 16z" fill="#dfe6ea"/><path d="M7.600 12.300h.8l.4 3.700h-1.600z" fill="#5b7f95"/><ellipse cx="8" cy="7.400" rx="2.700" ry="3.700" fill="#f6df94"/><path d="M4.900 6.500c-.4-3 1.300-4.400 3.100-4.400s3.500 1.400 3.100 4.400c-.6-1.300-1.300-1.700-3.100-1.700s-2.500.4-3.100 1.700z" fill="#f7b500"/><rect x="5.600" y="6" width="2" height="1.500" rx=".4" fill="#59728a"/><rect x="8.400" y="6" width="2" height="1.500" rx=".4" fill="#59728a"/><circle cx="8" cy="9.300" r=".4" fill="#d9534f"/></g></svg></div></div>
<div class="bar" style="left:1348.0px;top:414.5px;width:143.0px;background-color:#e8b400;background-image:repeating-linear-gradient(45deg,#c79a00 0,#c79a00 .7px,#e8b400 .7px,#e8b400 8.44px,#c79a00 8.44px,#c79a00 15.48px)"><div class="t"><span class="b">2d</span>Rigging</div><div class="s">GT Trailer</div></div>
</div></div>
<div class="a" style="left:301.600px;top:433.800px;width:717px;height:7.600px;border-radius:4px;background:#5b5e63"></div>
<div class="clip" style="left:0;top:467.800px;width:1500px;height:325.200px"><div class="a" style="left:0;top:-467.800px;width:1500px;height:815px">
<div class="hl" style="left:301.6px;width:1183.4px;top:495.4px"></div>
<div class="hl" style="left:167.0px;width:1318.0px;top:524.2px"></div>
<div class="vl" style="left:294.2px;top:467.8px;height:325.2px"></div>
<div class="vl" style="left:301.0px;top:467.8px;height:325.2px"></div>
<div class="wk" style="left:306.2px;top:476.1px">2 Mar 2018</div>
<div class="vl" style="left:370.4px;top:467.8px;height:27.6px"></div>
<div class="wk" style="left:376.0px;top:476.1px">5 Mar 2018</div>
<div class="vl" style="left:533.2px;top:467.8px;height:27.6px"></div>
<div class="wk" style="left:538.8px;top:476.1px">12 Mar 2018</div>
<div class="vl" style="left:696.0px;top:467.8px;height:27.6px"></div>
<div class="wk" style="left:701.6px;top:476.1px">19 Mar 2018</div>
<div class="vl" style="left:858.8px;top:467.8px;height:27.6px"></div>
<div class="wk" style="left:864.4px;top:476.1px">26 Mar 2018</div>
<div class="vl" style="left:1021.7px;top:467.8px;height:27.6px"></div>
<div class="wk" style="left:1027.3px;top:476.1px">2 Apr 2018</div>
<div class="vl" style="left:1184.5px;top:467.8px;height:27.6px"></div>
<div class="wk" style="left:1190.1px;top:476.1px">9 Apr 2018</div>
<div class="vl" style="left:1347.3px;top:467.8px;height:27.6px"></div>
<div class="wk" style="left:1352.9px;top:476.1px">16 Apr 2018</div>
<div class="dn" style="left:304.0px;top:503.9px">2</div>
<div class="vl" style="left:323.9px;top:495.4px;height:297.6px"></div>
<div class="dn w" style="left:327.3px;top:503.9px">3</div>
<div class="vl" style="left:347.1px;top:495.4px;height:297.6px"></div>
<div class="dn w" style="left:350.5px;top:503.9px">4</div>
<div class="vl" style="left:370.4px;top:495.4px;height:297.6px"></div>
<div class="dn" style="left:373.8px;top:503.9px">5</div>
<div class="vl" style="left:393.6px;top:495.4px;height:297.6px"></div>
<div class="dn" style="left:397.0px;top:503.9px">6</div>
<div class="vl" style="left:416.9px;top:495.4px;height:297.6px"></div>
<div class="dn" style="left:420.3px;top:503.9px">7</div>
<div class="vl" style="left:440.2px;top:495.4px;height:297.6px"></div>
<div class="dn" style="left:443.6px;top:503.9px">8</div>
<div class="vl" style="left:463.4px;top:495.4px;height:297.6px"></div>
<div class="dn" style="left:466.8px;top:503.9px">9</div>
<div class="vl" style="left:486.7px;top:495.4px;height:297.6px"></div>
<div class="dn w" style="left:490.1px;top:503.9px">10</div>
<div class="vl" style="left:509.9px;top:495.4px;height:297.6px"></div>
<div class="dn w" style="left:513.3px;top:503.9px">11</div>
<div class="vl" style="left:533.2px;top:495.4px;height:297.6px"></div>
<div class="dn" style="left:536.6px;top:503.9px">12</div>
<div class="vl" style="left:556.5px;top:495.4px;height:297.6px"></div>
<div class="dn" style="left:559.9px;top:503.9px">13</div>
<div class="vl" style="left:579.7px;top:495.4px;height:297.6px"></div>
<div class="dn" style="left:583.1px;top:503.9px">14</div>
<div class="vl" style="left:603.0px;top:495.4px;height:297.6px"></div>
<div class="dn" style="left:606.4px;top:503.9px">15</div>
<div class="vl" style="left:626.2px;top:495.4px;height:297.6px"></div>
<div class="dn" style="left:629.6px;top:503.9px">16</div>
<div class="vl" style="left:649.5px;top:495.4px;height:297.6px"></div>
<div class="dn w" style="left:652.9px;top:503.9px">17</div>
<div class="vl" style="left:672.8px;top:495.4px;height:297.6px"></div>
<div class="dn w" style="left:676.2px;top:503.9px">18</div>
<div class="vl" style="left:696.0px;top:495.4px;height:297.6px"></div>
<div class="dn" style="left:699.4px;top:503.9px">19</div>
<div class="vl" style="left:719.3px;top:495.4px;height:297.6px"></div>
<div class="dn" style="left:722.7px;top:503.9px">20</div>
<div class="vl" style="left:742.5px;top:495.4px;height:297.6px"></div>
<div class="dn" style="left:745.9px;top:503.9px">21</div>
<div class="vl" style="left:765.8px;top:495.4px;height:297.6px"></div>
<div class="dn" style="left:769.2px;top:503.9px">22</div>
<div class="vl" style="left:789.1px;top:495.4px;height:297.6px"></div>
<div class="dn" style="left:792.5px;top:503.9px">23</div>
<div class="vl" style="left:812.3px;top:495.4px;height:297.6px"></div>
<div class="dn w" style="left:815.7px;top:503.9px">24</div>
<div class="vl" style="left:835.6px;top:495.4px;height:297.6px"></div>
<div class="dn w" style="left:839.0px;top:503.9px">25</div>
<div class="vl" style="left:858.8px;top:495.4px;height:297.6px"></div>
<div class="dn" style="left:862.2px;top:503.9px">26</div>
<div class="vl" style="left:882.1px;top:495.4px;height:297.6px"></div>
<div class="dn" style="left:885.5px;top:503.9px">27</div>
<div class="vl" style="left:905.4px;top:495.4px;height:297.6px"></div>
<div class="dn" style="left:908.8px;top:503.9px">28</div>
<div class="vl" style="left:928.6px;top:495.4px;height:297.6px"></div>
<div class="dn" style="left:932.0px;top:503.9px">29</div>
<div class="vl" style="left:951.9px;top:495.4px;height:297.6px"></div>
<div class="dn" style="left:955.3px;top:503.9px">30</div>
<div class="vl" style="left:975.1px;top:495.4px;height:297.6px"></div>
<div class="dn w" style="left:978.5px;top:503.9px">31</div>
<div class="vl" style="left:998.4px;top:495.4px;height:297.6px"></div>
<div class="dn w" style="left:1001.8px;top:503.9px">1</div>
<div class="vl" style="left:1021.7px;top:495.4px;height:297.6px"></div>
<div class="dn" style="left:1025.1px;top:503.9px">2</div>
<div class="vl" style="left:1044.9px;top:495.4px;height:297.6px"></div>
<div class="dn" style="left:1048.3px;top:503.9px">3</div>
<div class="vl" style="left:1068.2px;top:495.4px;height:297.6px"></div>
<div class="dn" style="left:1071.6px;top:503.9px">4</div>
<div class="vl" style="left:1091.4px;top:495.4px;height:297.6px"></div>
<div class="dn" style="left:1094.8px;top:503.9px">5</div>
<div class="vl" style="left:1114.7px;top:495.4px;height:297.6px"></div>
<div class="dn" style="left:1118.1px;top:503.9px">6</div>
<div class="vl" style="left:1138.0px;top:495.4px;height:297.6px"></div>
<div class="dn w" style="left:1141.4px;top:503.9px">7</div>
<div class="vl" style="left:1161.2px;top:495.4px;height:297.6px"></div>
<div class="dn w" style="left:1164.6px;top:503.9px">8</div>
<div class="vl" style="left:1184.5px;top:495.4px;height:297.6px"></div>
<div class="dn" style="left:1187.9px;top:503.9px">9</div>
<div class="vl" style="left:1207.7px;top:495.4px;height:297.6px"></div>
<div class="dn" style="left:1211.1px;top:503.9px">10</div>
<div class="vl" style="left:1231.0px;top:495.4px;height:297.6px"></div>
<div class="dn" style="left:1234.4px;top:503.9px">11</div>
<div class="vl" style="left:1254.3px;top:495.4px;height:297.6px"></div>
<div class="dn" style="left:1257.7px;top:503.9px">12</div>
<div class="vl" style="left:1277.5px;top:495.4px;height:297.6px"></div>
<div class="dn" style="left:1280.9px;top:503.9px">13</div>
<div class="vl" style="left:1300.8px;top:495.4px;height:297.6px"></div>
<div class="dn w" style="left:1304.2px;top:503.9px">14</div>
<div class="vl" style="left:1324.0px;top:495.4px;height:297.6px"></div>
<div class="dn w" style="left:1327.4px;top:503.9px">15</div>
<div class="vl" style="left:1347.3px;top:495.4px;height:297.6px"></div>
<div class="dn" style="left:1350.7px;top:503.9px">16</div>
<div class="vl" style="left:1370.6px;top:495.4px;height:297.6px"></div>
<div class="dn" style="left:1374.0px;top:503.9px">17</div>
<div class="vl" style="left:1393.8px;top:495.4px;height:297.6px"></div>
<div class="dn" style="left:1397.2px;top:503.9px">18</div>
<div class="vl" style="left:1417.1px;top:495.4px;height:297.6px"></div>
<div class="dn" style="left:1420.5px;top:503.9px">19</div>
<div class="vl" style="left:1440.3px;top:495.4px;height:297.6px"></div>
<div class="dn" style="left:1443.7px;top:503.9px">20</div>
<div class="vl" style="left:1463.6px;top:495.4px;height:297.6px"></div>
<div class="dn w" style="left:1467.0px;top:503.9px">21</div>
<div class="hl" style="left:167.0px;width:127.2px;top:599.9px"></div>
<div class="hl" style="left:301.6px;width:1183.4px;top:599.9px"></div>
<div class="hl" style="left:167.0px;width:127.2px;top:658.0px"></div>
<div class="hl" style="left:301.6px;width:1183.4px;top:658.0px"></div>
<div class="hl" style="left:167.0px;width:127.2px;top:692.1px"></div>
<div class="hl" style="left:301.6px;width:1183.4px;top:692.1px"></div>
<div class="hl" style="left:167.0px;width:127.2px;top:750.0px"></div>
<div class="hl" style="left:301.6px;width:1183.4px;top:750.0px"></div>
<div class="a" style="left:388.5px;top:517.8px;width:2.4px;height:2.4px;background:#f4f4f4"></div>
<div class="ms" style="left:388.5px;top:510.2px;background:#9b9b9b"></div>
<div class="a" style="left:900.8px;top:517.8px;width:2.4px;height:2.4px;background:#f4f4f4"></div>
<div class="ms" style="left:900.8px;top:510.2px;background:#9b9b9b"></div>
<div class="a" style="left:924.1px;top:517.8px;width:2.4px;height:2.4px;background:#f4f4f4"></div>
<div class="ms" style="left:924.1px;top:510.2px;background:#5e7c8b"></div>
<div class="a" style="left:958.6px;top:517.8px;width:2.4px;height:2.4px;background:#f4f4f4"></div>
<div class="ms" style="left:958.6px;top:510.2px;background:#cfdc00"></div>
<div class="a" style="left:1366.2px;top:517.8px;width:2.4px;height:2.4px;background:#f4f4f4"></div>
<div class="ms" style="left:1366.2px;top:510.2px;background:#1fb3cf"></div>
<div class="hol" style="left:557px;top:541.6px;width:23px;height:58.3px"><i style="top:-17.4px"></i></div>
<div class="hol" style="left:557px;top:599.9px;width:23px;height:58.1px"><i></i></div>
<div class="hol" style="left:557px;top:658.0px;width:23px;height:34.1px"><i></i></div>
<div class="hol" style="left:557px;top:692.1px;width:23px;height:57.9px"><i></i></div>
<div class="hol" style="left:557px;top:750.0px;width:23px;height:43.0px"><i></i></div>
<div class="hol" style="left:580px;top:541.6px;width:23px;height:58.3px"><i style="top:-17.4px"></i></div>
<div class="hol" style="left:580px;top:599.9px;width:23px;height:58.1px"><i></i></div>
<div class="hol" style="left:580px;top:658.0px;width:23px;height:34.1px"><i></i></div>
<div class="hol" style="left:580px;top:692.1px;width:23px;height:57.9px"><i></i></div>
<div class="hol" style="left:580px;top:750.0px;width:23px;height:43.0px"><i></i></div>
<div class="hol" style="left:1069px;top:541.6px;width:22px;height:58.3px"><i style="top:-17.4px"></i></div>
<div class="hol" style="left:1069px;top:599.9px;width:22px;height:58.1px"><i></i></div>
<div class="hol" style="left:1069px;top:658.0px;width:22px;height:34.1px"><i></i></div>
<div class="hol" style="left:1069px;top:692.1px;width:22px;height:57.9px"><i></i></div>
<div class="hol" style="left:1069px;top:750.0px;width:22px;height:43.0px"><i></i></div>
<div class="hol" style="left:1092px;top:541.6px;width:23px;height:58.3px"><i style="top:-17.4px"></i></div>
<div class="hol" style="left:1092px;top:599.9px;width:23px;height:58.1px"><i></i></div>
<div class="hol" style="left:1092px;top:658.0px;width:23px;height:34.1px"><i></i></div>
<div class="hol" style="left:1092px;top:692.1px;width:23px;height:57.9px"><i></i></div>
<div class="hol" style="left:1092px;top:750.0px;width:23px;height:43.0px"><i></i></div>
<div class="cb" style="top:533.3px"></div>
<div class="dot" style="top:529.8px;width:16px;height:16px;overflow:hidden"><svg viewBox="0 0 16 16"><rect width="16" height="16" fill="#2fb5a6"/><path d="M0 16L4.500 6l3.500 8z" fill="#23907f"/><g transform="translate(-0.64,-1.58) scale(1.08)"><path d="M2.600 16c.3-2.400 1.600-3.300 3.400-3.700h4c1.800.4 3.100 1.300 3.400 3.700z" fill="#d0402c"/><path d="M10.300 12.400c1.600.4 2.800 1.300 3.100 3.600h-3.100z" fill="#a51f12"/><path d="M6.200 12.300h3.600V16H6.200z" fill="#fff"/><path d="M7.200 10h1.600v3.200L8 14.200l-.8-1z" fill="#f3d07e"/><ellipse cx="8" cy="7.600" rx="2.700" ry="3.300" fill="#f6d98e"/><path d="M5.100 6.600c-.3-2.400 1.100-3.600 2.900-3.600s3.200 1.200 2.900 3.600c-.5-.9-1.300-1.200-2.900-1.200s-2.400.3-2.900 1.200z" fill="#1d2740"/><rect x="5.300" y="6.200" width="5.400" height="1.500" rx=".5" fill="#e8813a"/><ellipse cx="8" cy="9.300" rx=".9" ry=".5" fill="#ee5a5a"/></g></svg></div>
<div class="lab" style="top:529.3px">Andy Seebergs</div>
<div class="cb" style="top:609.0px"></div>
<div class="dot" style="top:605.5px;width:16px;height:16px;overflow:hidden"><svg viewBox="0 0 16 16"><rect width="16" height="16" fill="#ab8494"/><path d="M0 16L5 4l3 8z" fill="#9c7485"/><g transform="translate(-1.12,-1.94) scale(1.14)"><path d="M1.5 16c.3-3 2-4.2 4-4.6h5c2 .4 3.700 1.600 4 4.600z" fill="#fff"/><path d="M4.300 16v-4.300h7.400V16z" fill="#1f7fd0"/><path d="M6.800 11h2.400v1.800L8 13.600l-1.200-.8z" fill="#f0c27a"/><ellipse cx="8" cy="5.800" rx="3" ry="3.500" fill="#f3d686"/><path d="M5.200 7.800c1 1.100 4.600 1.100 5.600 0 0 2-1.200 3-2.800 3s-2.800-1-2.800-3z" fill="#2b2b33"/><path d="M7 8.300h2" stroke="#f3d686" stroke-width=".5"/></g></svg></div>
<div class="lab" style="top:605.0px">Björn Rydahl</div>
<div class="cb" style="top:667.1px"></div>
<div class="dot" style="top:663.6px;width:16px;height:16px;overflow:hidden"><svg viewBox="0 0 16 16"><rect width="16" height="16" fill="#2fb5a6"/><path d="M0 16L4.500 5l3.500 8z" fill="#23907f"/><g transform="translate(-1.28,-1.96) scale(1.16)"><path d="M2.300 16c.3-2.800 1.800-3.900 3.800-4.300h3.800c2 .4 3.500 1.500 3.800 4.300z" fill="#2f2b2e"/><path d="M6.700 11.500h2.600L8 16z" fill="#dfe6ea"/><path d="M7.600 12.300h.8l.4 3.700h-1.600z" fill="#5b7f95"/><ellipse cx="8" cy="7.400" rx="2.700" ry="3.700" fill="#f6df94"/><path d="M4.900 6.500c-.4-3 1.300-4.400 3.100-4.400s3.500 1.400 3.100 4.400c-.6-1.300-1.300-1.700-3.100-1.700s-2.500.4-3.100 1.700z" fill="#f7b500"/><rect x="5.600" y="6" width="2" height="1.500" rx=".4" fill="#59728a"/><rect x="8.400" y="6" width="2" height="1.500" rx=".4" fill="#59728a"/><circle cx="8" cy="9.300" r=".4" fill="#d9534f"/></g></svg></div>
<div class="lab" style="top:663.1px">Eric Hermelin</div>
<div class="cb" style="top:701.2px"></div>
<div class="dot" style="top:697.7px;width:16px;height:16px;overflow:hidden"><svg viewBox="0 0 16 16"><rect width="16" height="16" fill="#ab8494"/><path d="M0 16L5 4l3 8z" fill="#9c7485"/><g transform="translate(-1.12,-1.94) scale(1.14)"><path d="M1.5 16c.3-3 2-4.2 4-4.6h5c2 .4 3.700 1.600 4 4.600z" fill="#fff"/><path d="M4.300 16v-4.300h7.400V16z" fill="#1f7fd0"/><path d="M6.800 11h2.400v1.800L8 13.600l-1.200-.8z" fill="#f0c27a"/><ellipse cx="8" cy="5.800" rx="3" ry="3.500" fill="#f3d686"/><path d="M5.200 7.800c1 1.100 4.600 1.100 5.600 0 0 2-1.200 3-2.800 3s-2.800-1-2.800-3z" fill="#2b2b33"/><path d="M7 8.300h2" stroke="#f3d686" stroke-width=".5"/></g></svg></div>
<div class="lab" style="top:697.2px">Fredrik Limsater</div>
<div class="cb" style="top:759.1px"></div>
<div class="dot" style="top:755.6px;width:16px;height:16px;overflow:hidden"><svg viewBox="0 0 16 16"><rect width="16" height="16" fill="#2fb5a6"/><path d="M0 16L4.500 5l3.500 8z" fill="#23907f"/><g transform="translate(-1.28,-1.96) scale(1.16)"><path d="M2.300 16c.3-2.800 1.800-3.900 3.800-4.300h3.800c2 .4 3.500 1.500 3.800 4.300z" fill="#2f2b2e"/><path d="M6.700 11.500h2.600L8 16z" fill="#dfe6ea"/><path d="M7.600 12.300h.8l.4 3.700h-1.600z" fill="#5b7f95"/><ellipse cx="8" cy="7.400" rx="2.700" ry="3.700" fill="#f6df94"/><path d="M4.900 6.500c-.4-3 1.300-4.400 3.100-4.400s3.500 1.400 3.100 4.400c-.6-1.300-1.300-1.700-3.100-1.700s-2.500.4-3.100 1.700z" fill="#f7b500"/><rect x="5.600" y="6" width="2" height="1.500" rx=".4" fill="#59728a"/><rect x="8.400" y="6" width="2" height="1.500" rx=".4" fill="#59728a"/><circle cx="8" cy="9.300" r=".4" fill="#d9534f"/></g></svg></div>
<div class="lab" style="top:755.1px">John Doe</div>
<div class="ev" style="left:557.2px;top:524.5px;width:46.8px">Holiday</div>
<div class="ev" style="left:1068.9px;top:524.5px;width:46.8px">Bank holi…</div>
<div class="a" style="left:302.6px;top:542.5px;width:1.6px;height:21.8px;background:#17181b"></div>
<div class="bar" style="left:304.0px;top:542.2px;width:182.6px;background-color:#1db1cd;background-image:repeating-linear-gradient(45deg,#1a9ab3 0,#1a9ab3 .7px,#1db1cd .7px,#1db1cd 8.44px,#1a9ab3 8.44px,#1a9ab3 15.48px)"><div class="t">Animation</div><div class="s">Homefront</div><div class="av" style="right:11.9px"><svg viewBox="0 0 16 16"><rect width="16" height="16" fill="#2fb5a6"/><path d="M0 16L4.500 6l3.500 8z" fill="#23907f"/><g transform="translate(-0.64,-1.58) scale(1.08)"><path d="M2.600 16c.3-2.400 1.600-3.300 3.400-3.700h4c1.800.4 3.100 1.300 3.400 3.700z" fill="#d0402c"/><path d="M10.300 12.400c1.600.4 2.800 1.300 3.100 3.600h-3.100z" fill="#a51f12"/><path d="M6.200 12.300h3.600V16H6.200z" fill="#fff"/><path d="M7.200 10h1.600v3.200L8 14.200l-.8-1z" fill="#f3d07e"/><ellipse cx="8" cy="7.600" rx="2.700" ry="3.300" fill="#f6d98e"/><path d="M5.100 6.600c-.3-2.400 1.100-3.600 2.900-3.600s3.200 1.200 2.900 3.600c-.5-.9-1.300-1.200-2.900-1.200s-2.400.3-2.900 1.200z" fill="#1d2740"/><rect x="5.300" y="6.200" width="5.400" height="1.500" rx=".5" fill="#e8813a"/><ellipse cx="8" cy="9.300" rx=".9" ry=".5" fill="#ee5a5a"/></g></svg></div><div class="av" style="right:2.6px"><svg viewBox="0 0 16 16"><rect width="16" height="16" fill="#2fb5a6"/><path d="M0 16L4.500 5l3.500 8z" fill="#23907f"/><g transform="translate(-1.28,-1.96) scale(1.16)"><path d="M2.300 16c.3-2.800 1.800-3.900 3.800-4.300h3.800c2 .4 3.500 1.500 3.800 4.300z" fill="#2f2b2e"/><path d="M6.700 11.500h2.600L8 16z" fill="#dfe6ea"/><path d="M7.600 12.300h.8l.4 3.700h-1.600z" fill="#5b7f95"/><ellipse cx="8" cy="7.400" rx="2.700" ry="3.700" fill="#f6df94"/><path d="M4.900 6.500c-.4-3 1.300-4.400 3.100-4.400s3.500 1.400 3.100 4.400c-.6-1.300-1.300-1.700-3.100-1.700s-2.500.4-3.100 1.700z" fill="#f7b500"/><rect x="5.600" y="6" width="2" height="1.500" rx=".4" fill="#59728a"/><rect x="8.400" y="6" width="2" height="1.500" rx=".4" fill="#59728a"/><circle cx="8" cy="9.300" r=".4" fill="#d9534f"/></g></svg></div></div>
<div class="bar" style="left:766.5px;top:542.4px;width:115.5px;background-color:#73534a;background-image:repeating-linear-gradient(45deg,#62473f 0,#62473f .7px,#73534a .7px,#73534a 8.44px,#62473f 8.44px,#62473f 15.48px)"><div class="t"><span class="b">3d</span>Fine animat…</div><div class="s">U-boat watch</div><div class="av" style="right:11.9px"><svg viewBox="0 0 16 16"><rect width="16" height="16" fill="#2fb5a6"/><path d="M0 16L4.500 6l3.500 8z" fill="#23907f"/><g transform="translate(-0.64,-1.58) scale(1.08)"><path d="M2.600 16c.3-2.400 1.600-3.300 3.400-3.700h4c1.800.4 3.100 1.300 3.400 3.700z" fill="#d0402c"/><path d="M10.300 12.400c1.600.4 2.800 1.300 3.100 3.600h-3.100z" fill="#a51f12"/><path d="M6.200 12.300h3.600V16H6.200z" fill="#fff"/><path d="M7.200 10h1.600v3.200L8 14.200l-.8-1z" fill="#f3d07e"/><ellipse cx="8" cy="7.600" rx="2.700" ry="3.300" fill="#f6d98e"/><path d="M5.100 6.600c-.3-2.400 1.100-3.600 2.900-3.600s3.200 1.200 2.900 3.600c-.5-.9-1.300-1.200-2.900-1.200s-2.400.3-2.900 1.200z" fill="#1d2740"/><rect x="5.300" y="6.200" width="5.400" height="1.500" rx=".5" fill="#e8813a"/><ellipse cx="8" cy="9.300" rx=".9" ry=".5" fill="#ee5a5a"/></g></svg></div><div class="av" style="right:2.6px"><svg viewBox="0 0 16 16"><rect width="16" height="16" fill="#2fb5a6"/><path d="M0 16L4.500 5l3.500 8z" fill="#23907f"/><g transform="translate(-1.28,-1.96) scale(1.16)"><path d="M2.300 16c.3-2.800 1.800-3.900 3.800-4.300h3.800c2 .4 3.500 1.500 3.800 4.300z" fill="#2f2b2e"/><path d="M6.700 11.500h2.600L8 16z" fill="#dfe6ea"/><path d="M7.600 12.300h.8l.4 3.700h-1.600z" fill="#5b7f95"/><ellipse cx="8" cy="7.400" rx="2.700" ry="3.700" fill="#f6df94"/><path d="M4.900 6.500c-.4-3 1.300-4.400 3.100-4.400s3.500 1.400 3.100 4.400c-.6-1.300-1.300-1.700-3.100-1.700s-2.500.4-3.100 1.700z" fill="#f7b500"/><rect x="5.600" y="6" width="2" height="1.500" rx=".4" fill="#59728a"/><rect x="8.400" y="6" width="2" height="1.500" rx=".4" fill="#59728a"/><circle cx="8" cy="9.300" r=".4" fill="#d9534f"/></g></svg></div></div>
<div class="bar" style="left:882.8px;top:542.4px;width:138.8px;background-color:#82b834;background-image:repeating-linear-gradient(45deg,#709e2e 0,#709e2e .7px,#82b834 .7px,#82b834 8.44px,#709e2e 8.44px,#709e2e 15.48px)"><div class="t"><span class="b">5d</span>Animation</div><div class="s">Sync</div><div class="av" style="right:2.6px"><svg viewBox="0 0 16 16"><rect width="16" height="16" fill="#2fb5a6"/><path d="M0 16L4.500 6l3.500 8z" fill="#23907f"/><g transform="translate(-0.64,-1.58) scale(1.08)"><path d="M2.600 16c.3-2.400 1.600-3.300 3.400-3.700h4c1.800.4 3.100 1.300 3.400 3.700z" fill="#d0402c"/><path d="M10.300 12.400c1.600.4 2.800 1.300 3.100 3.600h-3.100z" fill="#a51f12"/><path d="M6.200 12.300h3.600V16H6.200z" fill="#fff"/><path d="M7.200 10h1.600v3.200L8 14.200l-.8-1z" fill="#f3d07e"/><ellipse cx="8" cy="7.600" rx="2.700" ry="3.300" fill="#f6d98e"/><path d="M5.100 6.600c-.3-2.400 1.100-3.600 2.900-3.600s3.200 1.200 2.900 3.600c-.5-.9-1.300-1.200-2.900-1.200s-2.400.3-2.900 1.200z" fill="#1d2740"/><rect x="5.300" y="6.200" width="5.400" height="1.500" rx=".5" fill="#e8813a"/><ellipse cx="8" cy="9.300" rx=".9" ry=".5" fill="#ee5a5a"/></g></svg></div></div>
<div class="bar" style="left:1022.4px;top:542.4px;width:185.3px;background-color:#73534a;background-image:repeating-linear-gradient(45deg,#62473f 0,#62473f .7px,#73534a .7px,#73534a 8.44px,#62473f 8.44px,#62473f 15.48px)"><div class="t"><span class="b">3d</span>Pack shot</div><div class="s">U-boat watch</div><div class="av" style="right:2.6px"><svg viewBox="0 0 16 16"><rect width="16" height="16" fill="#2fb5a6"/><path d="M0 16L4.500 6l3.500 8z" fill="#23907f"/><g transform="translate(-0.64,-1.58) scale(1.08)"><path d="M2.600 16c.3-2.400 1.600-3.300 3.400-3.700h4c1.800.4 3.100 1.300 3.400 3.700z" fill="#d0402c"/><path d="M10.300 12.400c1.600.4 2.800 1.300 3.100 3.600h-3.100z" fill="#a51f12"/><path d="M6.200 12.300h3.600V16H6.200z" fill="#fff"/><path d="M7.200 10h1.600v3.200L8 14.200l-.8-1z" fill="#f3d07e"/><ellipse cx="8" cy="7.600" rx="2.700" ry="3.300" fill="#f6d98e"/><path d="M5.100 6.600c-.3-2.400 1.100-3.600 2.900-3.600s3.200 1.200 2.900 3.600c-.5-.9-1.300-1.200-2.900-1.200s-2.400.3-2.900 1.200z" fill="#1d2740"/><rect x="5.300" y="6.200" width="5.400" height="1.500" rx=".5" fill="#e8813a"/><ellipse cx="8" cy="9.300" rx=".9" ry=".5" fill="#ee5a5a"/></g></svg></div></div>
<div class="bar" style="left:1348.0px;top:542.4px;width:143.0px;background-color:#e8b400;background-image:repeating-linear-gradient(45deg,#c79a00 0,#c79a00 .7px,#e8b400 .7px,#e8b400 8.44px,#c79a00 8.44px,#c79a00 15.48px)"><div class="t"><span class="b">2d</span>Rigging</div><div class="s">GT Trailer</div></div>
<div class="bar" style="left:1394.5px;top:566.6px;width:96.5px;background-color:#e8b400;background-image:repeating-linear-gradient(45deg,#c79a00 0,#c79a00 .7px,#e8b400 .7px,#e8b400 8.44px,#c79a00 8.44px,#c79a00 15.48px)"><div class="t"><span class="b">5d</span>Animation</div><div class="s">GT Trailer</div></div>
<div class="bar" style="left:324.6px;top:600.4px;width:92.2px;background-color:#5d7685;background-image:repeating-linear-gradient(45deg,#4f6572 0,#4f6572 .7px,#5d7685 .7px,#5d7685 8.44px,#4f6572 8.44px,#4f6572 15.48px)"><div class="t">FX</div><div class="s">Brickmania</div><div class="av" style="right:2.6px"><svg viewBox="0 0 16 16"><rect width="16" height="16" fill="#ab8494"/><path d="M0 16L5 4l3 8z" fill="#9c7485"/><g transform="translate(-1.12,-1.94) scale(1.14)"><path d="M1.5 16c.3-3 2-4.2 4-4.6h5c2 .4 3.700 1.600 4 4.600z" fill="#fff"/><path d="M4.300 16v-4.300h7.400V16z" fill="#1f7fd0"/><path d="M6.800 11h2.400v1.800L8 13.600l-1.200-.8z" fill="#f0c27a"/><ellipse cx="8" cy="5.800" rx="3" ry="3.500" fill="#f3d686"/><path d="M5.200 7.800c1 1.100 4.600 1.100 5.600 0 0 2-1.200 3-2.800 3s-2.800-1-2.800-3z" fill="#2b2b33"/><path d="M7 8.300h2" stroke="#f3d686" stroke-width=".5"/></g></svg></div></div>
<div class="bar" style="left:440.9px;top:600.4px;width:138.8px;background-color:#9a9a9a;background-image:repeating-linear-gradient(45deg,#858585 0,#858585 .7px,#9a9a9a .7px,#9a9a9a 8.44px,#858585 8.44px,#858585 15.48px)"><div class="t"><span class="b">2d</span>Pack shot</div><div class="s">Concept 8</div><div class="av" style="right:2.6px"><svg viewBox="0 0 16 16"><rect width="16" height="16" fill="#ab8494"/><path d="M0 16L5 4l3 8z" fill="#9c7485"/><g transform="translate(-1.12,-1.94) scale(1.14)"><path d="M1.5 16c.3-3 2-4.2 4-4.6h5c2 .4 3.700 1.600 4 4.600z" fill="#fff"/><path d="M4.300 16v-4.300h7.400V16z" fill="#1f7fd0"/><path d="M6.800 11h2.400v1.800L8 13.600l-1.200-.8z" fill="#f0c27a"/><ellipse cx="8" cy="5.800" rx="3" ry="3.500" fill="#f3d686"/><path d="M5.200 7.800c1 1.100 4.600 1.100 5.600 0 0 2-1.200 3-2.800 3s-2.800-1-2.800-3z" fill="#2b2b33"/><path d="M7 8.300h2" stroke="#f3d686" stroke-width=".5"/></g></svg></div></div>
<div class="bar" style="left:580.4px;top:600.4px;width:162.0px;background-color:#9a9a9a;background-image:repeating-linear-gradient(45deg,#858585 0,#858585 .7px,#9a9a9a .7px,#9a9a9a 8.44px,#858585 8.44px,#858585 15.48px)"><div class="t">Deliver</div><div class="s">Cutter</div><div class="av" style="right:2.6px"><svg viewBox="0 0 16 16"><rect width="16" height="16" fill="#ab8494"/><path d="M0 16L5 4l3 8z" fill="#9c7485"/><g transform="translate(-1.12,-1.94) scale(1.14)"><path d="M1.5 16c.3-3 2-4.2 4-4.6h5c2 .4 3.700 1.600 4 4.600z" fill="#fff"/><path d="M4.300 16v-4.300h7.400V16z" fill="#1f7fd0"/><path d="M6.800 11h2.400v1.800L8 13.600l-1.200-.8z" fill="#f0c27a"/><ellipse cx="8" cy="5.800" rx="3" ry="3.500" fill="#f3d686"/><path d="M5.200 7.800c1 1.100 4.600 1.100 5.600 0 0 2-1.200 3-2.800 3s-2.800-1-2.800-3z" fill="#2b2b33"/><path d="M7 8.300h2" stroke="#f3d686" stroke-width=".5"/></g></svg></div></div>
<div class="bar" style="left:743.2px;top:600.4px;width:441.1px;background-color:#82b834;background-image:repeating-linear-gradient(45deg,#709e2e 0,#709e2e .7px,#82b834 .7px,#82b834 8.44px,#709e2e 8.44px,#709e2e 15.48px)"><div class="t">Lighting</div><div class="s">Sync</div><div class="av" style="right:2.6px"><svg viewBox="0 0 16 16"><rect width="16" height="16" fill="#ab8494"/><path d="M0 16L5 4l3 8z" fill="#9c7485"/><g transform="translate(-1.12,-1.94) scale(1.14)"><path d="M1.5 16c.3-3 2-4.2 4-4.6h5c2 .4 3.700 1.600 4 4.600z" fill="#fff"/><path d="M4.300 16v-4.300h7.400V16z" fill="#1f7fd0"/><path d="M6.800 11h2.400v1.800L8 13.600l-1.200-.8z" fill="#f0c27a"/><ellipse cx="8" cy="5.800" rx="3" ry="3.500" fill="#f3d686"/><path d="M5.200 7.800c1 1.100 4.600 1.100 5.600 0 0 2-1.200 3-2.800 3s-2.800-1-2.800-3z" fill="#2b2b33"/><path d="M7 8.300h2" stroke="#f3d686" stroke-width=".5"/></g></svg></div></div>
<div class="bar" style="left:371.1px;top:624.4px;width:278.3px;background-color:#5d7685;background-image:repeating-linear-gradient(45deg,#4f6572 0,#4f6572 .7px,#5d7685 .7px,#5d7685 8.44px,#4f6572 8.44px,#4f6572 15.48px)"><div class="t">Lighting</div><div class="s">Brickmania</div><div class="av" style="right:2.6px"><svg viewBox="0 0 16 16"><rect width="16" height="16" fill="#ab8494"/><path d="M0 16L5 4l3 8z" fill="#9c7485"/><g transform="translate(-1.12,-1.94) scale(1.14)"><path d="M1.5 16c.3-3 2-4.2 4-4.6h5c2 .4 3.700 1.600 4 4.600z" fill="#fff"/><path d="M4.300 16v-4.300h7.400V16z" fill="#1f7fd0"/><path d="M6.800 11h2.400v1.800L8 13.600l-1.200-.8z" fill="#f0c27a"/><ellipse cx="8" cy="5.800" rx="3" ry="3.500" fill="#f3d686"/><path d="M5.200 7.800c1 1.100 4.600 1.100 5.600 0 0 2-1.200 3-2.800 3s-2.800-1-2.800-3z" fill="#2b2b33"/><path d="M7 8.300h2" stroke="#f3d686" stroke-width=".5"/></g></svg></div></div>
<div class="bar" style="left:859.5px;top:624.4px;width:162.0px;background-color:#73534a;background-image:repeating-linear-gradient(45deg,#62473f 0,#62473f .7px,#73534a .7px,#73534a 8.44px,#62473f 8.44px,#62473f 15.48px)"><div class="t"><span class="b">2d</span>Ligthing</div><div class="s">U-boat watch</div><div class="av" style="right:2.6px"><svg viewBox="0 0 16 16"><rect width="16" height="16" fill="#ab8494"/><path d="M0 16L5 4l3 8z" fill="#9c7485"/><g transform="translate(-1.12,-1.94) scale(1.14)"><path d="M1.5 16c.3-3 2-4.2 4-4.6h5c2 .4 3.700 1.600 4 4.600z" fill="#fff"/><path d="M4.300 16v-4.300h7.400V16z" fill="#1f7fd0"/><path d="M6.800 11h2.400v1.800L8 13.600l-1.200-.8z" fill="#f0c27a"/><ellipse cx="8" cy="5.800" rx="3" ry="3.500" fill="#f3d686"/><path d="M5.200 7.800c1 1.100 4.600 1.100 5.600 0 0 2-1.200 3-2.800 3s-2.800-1-2.800-3z" fill="#2b2b33"/><path d="M7 8.300h2" stroke="#f3d686" stroke-width=".5"/></g></svg></div></div>
<div class="a" style="left:302.6px;top:658.7px;width:1.6px;height:21.8px;background:#17181b"></div>
<div class="bar" style="left:304.0px;top:658.4px;width:19.8px;background-color:#73534a;background-image:repeating-linear-gradient(45deg,#62473f 0,#62473f .7px,#73534a .7px,#73534a 8.44px,#62473f 8.44px,#62473f 15.48px)"><div class="t"><span class="b">1d</span></div><div class="s">U-…</div><div class="av" style="left:11px"><svg viewBox="0 0 16 16"><rect width="16" height="16" fill="#2fb5a6"/><path d="M0 16L4.500 5l3.500 8z" fill="#23907f"/><g transform="translate(-1.28,-1.96) scale(1.16)"><path d="M2.300 16c.3-2.800 1.800-3.900 3.800-4.300h3.800c2 .4 3.500 1.500 3.800 4.300z" fill="#2f2b2e"/><path d="M6.700 11.500h2.600L8 16z" fill="#dfe6ea"/><path d="M7.600 12.300h.8l.4 3.700h-1.600z" fill="#5b7f95"/><ellipse cx="8" cy="7.400" rx="2.700" ry="3.700" fill="#f6df94"/><path d="M4.900 6.500c-.4-3 1.300-4.400 3.100-4.400s3.500 1.400 3.100 4.400c-.6-1.300-1.300-1.700-3.100-1.700s-2.500.4-3.100 1.700z" fill="#f7b500"/><rect x="5.600" y="6" width="2" height="1.500" rx=".4" fill="#59728a"/><rect x="8.400" y="6" width="2" height="1.500" rx=".4" fill="#59728a"/><circle cx="8" cy="9.300" r=".4" fill="#d9534f"/></g></svg></div></div>
<div class="bar" style="left:464.1px;top:658.4px;width:394.6px;background-color:#82b834;background-image:repeating-linear-gradient(45deg,#709e2e 0,#709e2e .7px,#82b834 .7px,#82b834 8.44px,#709e2e 8.44px,#709e2e 15.48px)"><div class="t">Modeling</div><div class="s">Sync</div><div class="av" style="right:2.6px"><svg viewBox="0 0 16 16"><rect width="16" height="16" fill="#2fb5a6"/><path d="M0 16L4.500 5l3.500 8z" fill="#23907f"/><g transform="translate(-1.28,-1.96) scale(1.16)"><path d="M2.300 16c.3-2.800 1.800-3.900 3.800-4.300h3.800c2 .4 3.500 1.500 3.800 4.300z" fill="#2f2b2e"/><path d="M6.700 11.500h2.600L8 16z" fill="#dfe6ea"/><path d="M7.600 12.300h.8l.4 3.700h-1.600z" fill="#5b7f95"/><ellipse cx="8" cy="7.400" rx="2.700" ry="3.700" fill="#f6df94"/><path d="M4.900 6.500c-.4-3 1.300-4.400 3.100-4.400s3.500 1.400 3.100 4.400c-.6-1.300-1.300-1.700-3.100-1.700s-2.500.4-3.100 1.700z" fill="#f7b500"/><rect x="5.600" y="6" width="2" height="1.500" rx=".4" fill="#59728a"/><rect x="8.400" y="6" width="2" height="1.500" rx=".4" fill="#59728a"/><circle cx="8" cy="9.300" r=".4" fill="#d9534f"/></g></svg></div></div>
<div class="vac" style="left:859.5px;top:658.9px;width:208.5px;height:22px"><div class="t">Vacation</div><div class="av" style="right:3px"><svg viewBox="0 0 16 16"><rect width="16" height="16" fill="#2fb5a6"/><path d="M0 16L4.500 5l3.500 8z" fill="#23907f"/><g transform="translate(-1.28,-1.96) scale(1.16)"><path d="M2.300 16c.3-2.800 1.800-3.900 3.800-4.300h3.800c2 .4 3.500 1.500 3.800 4.300z" fill="#2f2b2e"/><path d="M6.700 11.500h2.600L8 16z" fill="#dfe6ea"/><path d="M7.600 12.300h.8l.4 3.700h-1.600z" fill="#5b7f95"/><ellipse cx="8" cy="7.400" rx="2.700" ry="3.700" fill="#f6df94"/><path d="M4.900 6.500c-.4-3 1.300-4.400 3.100-4.400s3.500 1.400 3.100 4.400c-.6-1.300-1.300-1.700-3.100-1.700s-2.500.4-3.100 1.700z" fill="#f7b500"/><rect x="5.600" y="6" width="2" height="1.500" rx=".4" fill="#59728a"/><rect x="8.400" y="6" width="2" height="1.500" rx=".4" fill="#59728a"/><circle cx="8" cy="9.300" r=".4" fill="#d9534f"/></g></svg></div></div>
<div class="bar" style="left:1278.2px;top:658.4px;width:69.0px;background-color:#e8b400;background-image:repeating-linear-gradient(45deg,#c79a00 0,#c79a00 .7px,#e8b400 .7px,#e8b400 8.44px,#c79a00 8.44px,#c79a00 15.48px)"><div class="t"><span class="b">6d</span>M…</div><div class="s">GT Trailer</div><div class="av" style="right:10.1px"><svg viewBox="0 0 16 16"><rect width="16" height="16" fill="#ab8494"/><path d="M0 16L5 4l3 8z" fill="#9c7485"/><g transform="translate(-1.12,-1.94) scale(1.14)"><path d="M1.5 16c.3-3 2-4.2 4-4.6h5c2 .4 3.700 1.600 4 4.600z" fill="#fff"/><path d="M4.300 16v-4.300h7.400V16z" fill="#1f7fd0"/><path d="M6.800 11h2.400v1.800L8 13.600l-1.200-.8z" fill="#f0c27a"/><ellipse cx="8" cy="5.800" rx="3" ry="3.500" fill="#f3d686"/><path d="M5.200 7.800c1 1.100 4.600 1.100 5.600 0 0 2-1.200 3-2.800 3s-2.800-1-2.800-3z" fill="#2b2b33"/><path d="M7 8.300h2" stroke="#f3d686" stroke-width=".5"/></g></svg></div><div class="av" style="right:0.8px"><svg viewBox="0 0 16 16"><rect width="16" height="16" fill="#2fb5a6"/><path d="M0 16L4.500 5l3.500 8z" fill="#23907f"/><g transform="translate(-1.28,-1.96) scale(1.16)"><path d="M2.300 16c.3-2.800 1.800-3.900 3.800-4.300h3.800c2 .4 3.500 1.500 3.800 4.300z" fill="#2f2b2e"/><path d="M6.700 11.500h2.600L8 16z" fill="#dfe6ea"/><path d="M7.600 12.300h.8l.4 3.700h-1.600z" fill="#5b7f95"/><ellipse cx="8" cy="7.400" rx="2.700" ry="3.700" fill="#f6df94"/><path d="M4.900 6.500c-.4-3 1.300-4.400 3.100-4.400s3.500 1.400 3.100 4.400c-.6-1.300-1.300-1.700-3.100-1.700s-2.500.4-3.100 1.700z" fill="#f7b500"/><rect x="5.600" y="6" width="2" height="1.500" rx=".4" fill="#59728a"/><rect x="8.400" y="6" width="2" height="1.500" rx=".4" fill="#59728a"/><circle cx="8" cy="9.300" r=".4" fill="#d9534f"/></g></svg></div></div>
<div class="a" style="left:302.6px;top:692.9px;width:1.6px;height:21.8px;background:#17181b"></div>
<div class="bar" style="left:304.0px;top:692.6px;width:89.5px;background-color:#9a9a9a;background-image:repeating-linear-gradient(45deg,#858585 0,#858585 .7px,#9a9a9a .7px,#9a9a9a 8.44px,#858585 8.44px,#858585 15.48px)"><div class="t"><span class="b">4d</span>Final de…</div><div class="s">Concept 8</div><div class="av" style="right:2.6px"><svg viewBox="0 0 16 16"><rect width="16" height="16" fill="#ab8494"/><path d="M0 16L5 4l3 8z" fill="#9c7485"/><g transform="translate(-1.12,-1.94) scale(1.14)"><path d="M1.5 16c.3-3 2-4.2 4-4.6h5c2 .4 3.700 1.600 4 4.600z" fill="#fff"/><path d="M4.300 16v-4.300h7.400V16z" fill="#1f7fd0"/><path d="M6.800 11h2.400v1.800L8 13.600l-1.200-.8z" fill="#f0c27a"/><ellipse cx="8" cy="5.800" rx="3" ry="3.500" fill="#f3d686"/><path d="M5.200 7.800c1 1.100 4.600 1.100 5.600 0 0 2-1.200 3-2.800 3s-2.800-1-2.800-3z" fill="#2b2b33"/><path d="M7 8.300h2" stroke="#f3d686" stroke-width=".5"/></g></svg></div></div>
<div class="bar" style="left:487.4px;top:692.6px;width:68.6px;background-color:#73534a;background-image:repeating-linear-gradient(45deg,#62473f 0,#62473f .7px,#73534a .7px,#73534a 8.44px,#62473f 8.44px,#62473f 15.48px)"><div class="t"><span class="b">2.5d</span>Ro…</div><div class="s">U-boat wa…</div><div class="av" style="right:0.8px"><svg viewBox="0 0 16 16"><rect width="16" height="16" fill="#ab8494"/><path d="M0 16L5 4l3 8z" fill="#9c7485"/><g transform="translate(-1.12,-1.94) scale(1.14)"><path d="M1.5 16c.3-3 2-4.2 4-4.6h5c2 .4 3.700 1.600 4 4.600z" fill="#fff"/><path d="M4.300 16v-4.300h7.400V16z" fill="#1f7fd0"/><path d="M6.800 11h2.400v1.800L8 13.600l-1.200-.8z" fill="#f0c27a"/><ellipse cx="8" cy="5.800" rx="3" ry="3.500" fill="#f3d686"/><path d="M5.200 7.800c1 1.100 4.600 1.100 5.600 0 0 2-1.200 3-2.800 3s-2.800-1-2.800-3z" fill="#2b2b33"/><path d="M7 8.300h2" stroke="#f3d686" stroke-width=".5"/></g></svg></div></div>
<div class="bar" style="left:557.2px;top:692.6px;width:92.2px;background-color:#73534a;background-image:repeating-linear-gradient(45deg,#62473f 0,#62473f .7px,#73534a .7px,#73534a 8.44px,#62473f 8.44px,#62473f 15.48px)"><div class="t"><span class="b">3d</span>Fine mo…</div><div class="s">U-boat watch</div><div class="av" style="right:2.6px"><svg viewBox="0 0 16 16"><rect width="16" height="16" fill="#ab8494"/><path d="M0 16L5 4l3 8z" fill="#9c7485"/><g transform="translate(-1.12,-1.94) scale(1.14)"><path d="M1.5 16c.3-3 2-4.2 4-4.6h5c2 .4 3.700 1.600 4 4.600z" fill="#fff"/><path d="M4.300 16v-4.300h7.400V16z" fill="#1f7fd0"/><path d="M6.800 11h2.400v1.800L8 13.600l-1.200-.8z" fill="#f0c27a"/><ellipse cx="8" cy="5.800" rx="3" ry="3.500" fill="#f3d686"/><path d="M5.200 7.800c1 1.100 4.600 1.100 5.600 0 0 2-1.200 3-2.800 3s-2.800-1-2.800-3z" fill="#2b2b33"/><path d="M7 8.300h2" stroke="#f3d686" stroke-width=".5"/></g></svg></div></div>
<div class="vac" style="left:650.2px;top:692.6px;width:138.8px;height:22.6px"><div class="t">Vacation</div><div class="av" style="right:3px"><svg viewBox="0 0 16 16"><rect width="16" height="16" fill="#ab8494"/><path d="M0 16L5 4l3 8z" fill="#9c7485"/><g transform="translate(-1.12,-1.94) scale(1.14)"><path d="M1.5 16c.3-3 2-4.2 4-4.6h5c2 .4 3.700 1.600 4 4.600z" fill="#fff"/><path d="M4.300 16v-4.300h7.400V16z" fill="#1f7fd0"/><path d="M6.800 11h2.400v1.800L8 13.600l-1.200-.8z" fill="#f0c27a"/><ellipse cx="8" cy="5.800" rx="3" ry="3.500" fill="#f3d686"/><path d="M5.200 7.800c1 1.100 4.600 1.100 5.600 0 0 2-1.200 3-2.800 3s-2.800-1-2.800-3z" fill="#2b2b33"/><path d="M7 8.300h2" stroke="#f3d686" stroke-width=".5"/></g></svg></div></div>
<div class="bar" style="left:906.1px;top:692.6px;width:115.5px;background-color:#73534a;background-image:repeating-linear-gradient(45deg,#62473f 0,#62473f .7px,#73534a .7px,#73534a 8.44px,#62473f 8.44px,#62473f 15.48px)"><div class="t"><span class="b">2d</span>Compositing</div><div class="s">U-boat watch</div><div class="av" style="right:2.6px"><svg viewBox="0 0 16 16"><rect width="16" height="16" fill="#ab8494"/><path d="M0 16L5 4l3 8z" fill="#9c7485"/><g transform="translate(-1.12,-1.94) scale(1.14)"><path d="M1.5 16c.3-3 2-4.2 4-4.6h5c2 .4 3.700 1.600 4 4.600z" fill="#fff"/><path d="M4.300 16v-4.300h7.400V16z" fill="#1f7fd0"/><path d="M6.800 11h2.400v1.800L8 13.600l-1.200-.8z" fill="#f0c27a"/><ellipse cx="8" cy="5.800" rx="3" ry="3.500" fill="#f3d686"/><path d="M5.200 7.800c1 1.100 4.600 1.100 5.600 0 0 2-1.200 3-2.800 3s-2.800-1-2.800-3z" fill="#2b2b33"/><path d="M7 8.300h2" stroke="#f3d686" stroke-width=".5"/></g></svg></div></div>
<div class="bar" style="left:1022.4px;top:692.6px;width:468.6px;background-color:#82b834;background-image:repeating-linear-gradient(45deg,#709e2e 0,#709e2e .7px,#82b834 .7px,#82b834 8.44px,#709e2e 8.44px,#709e2e 15.48px)"><div class="t"><span class="b">10d</span>Compositing</div><div class="s">Sync</div></div>
<div class="a" style="left:302.6px;top:717.2px;width:1.6px;height:21.8px;background:#17181b"></div>
<div class="bar" style="left:304.0px;top:716.9px;width:66.3px;background-color:#5d7685;background-image:repeating-linear-gradient(45deg,#4f6572 0,#4f6572 .7px,#5d7685 .7px,#5d7685 8.44px,#4f6572 8.44px,#4f6572 15.48px)"><div class="t">Create…</div><div class="s">TV Promo</div><div class="av" style="right:2.6px"><svg viewBox="0 0 16 16"><rect width="16" height="16" fill="#ab8494"/><path d="M0 16L5 4l3 8z" fill="#9c7485"/><g transform="translate(-1.12,-1.94) scale(1.14)"><path d="M1.5 16c.3-3 2-4.2 4-4.6h5c2 .4 3.700 1.600 4 4.600z" fill="#fff"/><path d="M4.300 16v-4.300h7.400V16z" fill="#1f7fd0"/><path d="M6.800 11h2.400v1.800L8 13.600l-1.200-.8z" fill="#f0c27a"/><ellipse cx="8" cy="5.800" rx="3" ry="3.500" fill="#f3d686"/><path d="M5.200 7.800c1 1.100 4.600 1.100 5.600 0 0 2-1.200 3-2.800 3s-2.800-1-2.800-3z" fill="#2b2b33"/><path d="M7 8.300h2" stroke="#f3d686" stroke-width=".5"/></g></svg></div></div>
<div class="bar" style="left:533.9px;top:716.9px;width:45.7px;background-color:#9a9a9a;background-image:repeating-linear-gradient(45deg,#858585 0,#858585 .7px,#9a9a9a .7px,#9a9a9a 8.44px,#858585 8.44px,#858585 15.48px)"><div class="t"><span class="b">2d</span>…</div><div class="s">Co…</div><div class="av" style="right:0.8px"><svg viewBox="0 0 16 16"><rect width="16" height="16" fill="#ab8494"/><path d="M0 16L5 4l3 8z" fill="#9c7485"/><g transform="translate(-1.12,-1.94) scale(1.14)"><path d="M1.5 16c.3-3 2-4.2 4-4.6h5c2 .4 3.700 1.600 4 4.600z" fill="#fff"/><path d="M4.300 16v-4.300h7.400V16z" fill="#1f7fd0"/><path d="M6.800 11h2.400v1.800L8 13.600l-1.200-.8z" fill="#f0c27a"/><ellipse cx="8" cy="5.800" rx="3" ry="3.500" fill="#f3d686"/><path d="M5.200 7.800c1 1.100 4.600 1.100 5.600 0 0 2-1.200 3-2.800 3s-2.800-1-2.800-3z" fill="#2b2b33"/><path d="M7 8.300h2" stroke="#f3d686" stroke-width=".5"/></g></svg></div></div>
<div class="bar" style="left:1278.2px;top:716.9px;width:69.0px;background-color:#e8b400;background-image:repeating-linear-gradient(45deg,#c79a00 0,#c79a00 .7px,#e8b400 .7px,#e8b400 8.44px,#c79a00 8.44px,#c79a00 15.48px)"><div class="t"><span class="b">6d</span>M…</div><div class="s">GT Trailer</div><div class="av" style="right:10.1px"><svg viewBox="0 0 16 16"><rect width="16" height="16" fill="#ab8494"/><path d="M0 16L5 4l3 8z" fill="#9c7485"/><g transform="translate(-1.12,-1.94) scale(1.14)"><path d="M1.5 16c.3-3 2-4.2 4-4.6h5c2 .4 3.700 1.600 4 4.600z" fill="#fff"/><path d="M4.300 16v-4.300h7.400V16z" fill="#1f7fd0"/><path d="M6.800 11h2.400v1.800L8 13.600l-1.200-.8z" fill="#f0c27a"/><ellipse cx="8" cy="5.800" rx="3" ry="3.500" fill="#f3d686"/><path d="M5.200 7.800c1 1.100 4.600 1.100 5.600 0 0 2-1.200 3-2.800 3s-2.800-1-2.800-3z" fill="#2b2b33"/><path d="M7 8.300h2" stroke="#f3d686" stroke-width=".5"/></g></svg></div><div class="av" style="right:0.8px"><svg viewBox="0 0 16 16"><rect width="16" height="16" fill="#2fb5a6"/><path d="M0 16L4.500 5l3.500 8z" fill="#23907f"/><g transform="translate(-1.28,-1.96) scale(1.16)"><path d="M2.300 16c.3-2.800 1.800-3.900 3.800-4.300h3.800c2 .4 3.500 1.500 3.800 4.300z" fill="#2f2b2e"/><path d="M6.700 11.500h2.600L8 16z" fill="#dfe6ea"/><path d="M7.600 12.300h.8l.4 3.700h-1.600z" fill="#5b7f95"/><ellipse cx="8" cy="7.400" rx="2.700" ry="3.700" fill="#f6df94"/><path d="M4.900 6.500c-.4-3 1.300-4.400 3.100-4.400s3.500 1.400 3.100 4.400c-.6-1.300-1.300-1.700-3.100-1.700s-2.500.4-3.100 1.700z" fill="#f7b500"/><rect x="5.600" y="6" width="2" height="1.500" rx=".4" fill="#59728a"/><rect x="8.400" y="6" width="2" height="1.500" rx=".4" fill="#59728a"/><circle cx="8" cy="9.300" r=".4" fill="#d9534f"/></g></svg></div></div>
<div class="a" style="left:302.6px;top:751.1px;width:1.6px;height:21.8px;background:#17181b"></div>
<div class="bar" style="left:304.0px;top:750.8px;width:182.6px;background-color:#1db1cd;background-image:repeating-linear-gradient(45deg,#1a9ab3 0,#1a9ab3 .7px,#1db1cd .7px,#1db1cd 8.44px,#1a9ab3 8.44px,#1a9ab3 15.48px)"><div class="t">Animation</div><div class="s">Homefront</div><div class="av" style="right:11.9px"><svg viewBox="0 0 16 16"><rect width="16" height="16" fill="#2fb5a6"/><path d="M0 16L4.500 6l3.500 8z" fill="#23907f"/><g transform="translate(-0.64,-1.58) scale(1.08)"><path d="M2.600 16c.3-2.400 1.600-3.300 3.400-3.700h4c1.800.4 3.100 1.300 3.400 3.700z" fill="#d0402c"/><path d="M10.300 12.400c1.600.4 2.800 1.300 3.100 3.600h-3.100z" fill="#a51f12"/><path d="M6.200 12.300h3.600V16H6.200z" fill="#fff"/><path d="M7.200 10h1.600v3.200L8 14.200l-.8-1z" fill="#f3d07e"/><ellipse cx="8" cy="7.600" rx="2.700" ry="3.300" fill="#f6d98e"/><path d="M5.100 6.600c-.3-2.400 1.100-3.600 2.900-3.600s3.200 1.200 2.900 3.600c-.5-.9-1.300-1.200-2.900-1.200s-2.400.3-2.900 1.200z" fill="#1d2740"/><rect x="5.300" y="6.200" width="5.400" height="1.500" rx=".5" fill="#e8813a"/><ellipse cx="8" cy="9.300" rx=".9" ry=".5" fill="#ee5a5a"/></g></svg></div><div class="av" style="right:2.6px"><svg viewBox="0 0 16 16"><rect width="16" height="16" fill="#2fb5a6"/><path d="M0 16L4.500 5l3.500 8z" fill="#23907f"/><g transform="translate(-1.28,-1.96) scale(1.16)"><path d="M2.300 16c.3-2.800 1.800-3.900 3.800-4.300h3.800c2 .4 3.500 1.500 3.800 4.300z" fill="#2f2b2e"/><path d="M6.700 11.500h2.600L8 16z" fill="#dfe6ea"/><path d="M7.600 12.300h.8l.4 3.700h-1.600z" fill="#5b7f95"/><ellipse cx="8" cy="7.400" rx="2.700" ry="3.700" fill="#f6df94"/><path d="M4.900 6.500c-.4-3 1.300-4.400 3.100-4.400s3.500 1.400 3.100 4.400c-.6-1.300-1.300-1.700-3.100-1.700s-2.500.4-3.100 1.700z" fill="#f7b500"/><rect x="5.600" y="6" width="2" height="1.500" rx=".4" fill="#59728a"/><rect x="8.400" y="6" width="2" height="1.500" rx=".4" fill="#59728a"/><circle cx="8" cy="9.300" r=".4" fill="#d9534f"/></g></svg></div></div>
<div class="bar" style="left:673.5px;top:750.8px;width:92.2px;background-color:#73534a;background-image:repeating-linear-gradient(45deg,#62473f 0,#62473f .7px,#73534a .7px,#73534a 8.44px,#62473f 8.44px,#62473f 15.48px)"><div class="t"><span class="b">3d</span>Block an…</div><div class="s">U-boat watch</div><div class="av" style="right:2.6px"><svg viewBox="0 0 16 16"><rect width="16" height="16" fill="#2fb5a6"/><path d="M0 16L4.500 5l3.500 8z" fill="#23907f"/><g transform="translate(-1.28,-1.96) scale(1.16)"><path d="M2.300 16c.3-2.800 1.800-3.900 3.800-4.300h3.800c2 .4 3.500 1.500 3.800 4.300z" fill="#2f2b2e"/><path d="M6.700 11.500h2.600L8 16z" fill="#dfe6ea"/><path d="M7.600 12.300h.8l.4 3.700h-1.600z" fill="#5b7f95"/><ellipse cx="8" cy="7.400" rx="2.700" ry="3.700" fill="#f6df94"/><path d="M4.900 6.500c-.4-3 1.300-4.400 3.100-4.400s3.500 1.400 3.100 4.400c-.6-1.300-1.300-1.700-3.100-1.700s-2.500.4-3.100 1.700z" fill="#f7b500"/><rect x="5.600" y="6" width="2" height="1.500" rx=".4" fill="#59728a"/><rect x="8.400" y="6" width="2" height="1.500" rx=".4" fill="#59728a"/><circle cx="8" cy="9.300" r=".4" fill="#d9534f"/></g></svg></div></div>
<div class="bar" style="left:766.5px;top:750.8px;width:115.5px;background-color:#73534a;background-image:repeating-linear-gradient(45deg,#62473f 0,#62473f .7px,#73534a .7px,#73534a 8.44px,#62473f 8.44px,#62473f 15.48px)"><div class="t"><span class="b">3d</span>Fine animat…</div><div class="s">U-boat watch</div><div class="av" style="right:11.9px"><svg viewBox="0 0 16 16"><rect width="16" height="16" fill="#2fb5a6"/><path d="M0 16L4.500 6l3.500 8z" fill="#23907f"/><g transform="translate(-0.64,-1.58) scale(1.08)"><path d="M2.600 16c.3-2.400 1.600-3.300 3.400-3.700h4c1.800.4 3.100 1.300 3.400 3.700z" fill="#d0402c"/><path d="M10.300 12.400c1.600.4 2.800 1.300 3.100 3.600h-3.100z" fill="#a51f12"/><path d="M6.200 12.300h3.600V16H6.200z" fill="#fff"/><path d="M7.200 10h1.600v3.200L8 14.200l-.8-1z" fill="#f3d07e"/><ellipse cx="8" cy="7.600" rx="2.700" ry="3.300" fill="#f6d98e"/><path d="M5.100 6.600c-.3-2.400 1.100-3.600 2.900-3.600s3.200 1.200 2.900 3.600c-.5-.9-1.300-1.200-2.900-1.200s-2.400.3-2.900 1.200z" fill="#1d2740"/><rect x="5.300" y="6.200" width="5.400" height="1.500" rx=".5" fill="#e8813a"/><ellipse cx="8" cy="9.300" rx=".9" ry=".5" fill="#ee5a5a"/></g></svg></div><div class="av" style="right:2.6px"><svg viewBox="0 0 16 16"><rect width="16" height="16" fill="#2fb5a6"/><path d="M0 16L4.500 5l3.500 8z" fill="#23907f"/><g transform="translate(-1.28,-1.96) scale(1.16)"><path d="M2.300 16c.3-2.800 1.800-3.900 3.800-4.300h3.800c2 .4 3.500 1.500 3.800 4.300z" fill="#2f2b2e"/><path d="M6.700 11.500h2.600L8 16z" fill="#dfe6ea"/><path d="M7.600 12.300h.8l.4 3.700h-1.600z" fill="#5b7f95"/><ellipse cx="8" cy="7.400" rx="2.700" ry="3.700" fill="#f6df94"/><path d="M4.900 6.500c-.4-3 1.300-4.400 3.100-4.400s3.500 1.400 3.100 4.400c-.6-1.300-1.300-1.700-3.100-1.700s-2.500.4-3.100 1.700z" fill="#f7b500"/><rect x="5.600" y="6" width="2" height="1.500" rx=".4" fill="#59728a"/><rect x="8.400" y="6" width="2" height="1.500" rx=".4" fill="#59728a"/><circle cx="8" cy="9.300" r=".4" fill="#d9534f"/></g></svg></div></div>
<div class="bar" style="left:882.8px;top:750.8px;width:231.8px;background-color:#2389e4;background-image:repeating-linear-gradient(45deg,#1e78c9 0,#1e78c9 .7px,#2389e4 .7px,#2389e4 8.44px,#1e78c9 8.44px,#1e78c9 15.48px)"><div class="t">Animation</div><div class="s">Arch visualisation</div><div class="av" style="right:2.6px"><svg viewBox="0 0 16 16"><rect width="16" height="16" fill="#2fb5a6"/><path d="M0 16L4.500 5l3.500 8z" fill="#23907f"/><g transform="translate(-1.28,-1.96) scale(1.16)"><path d="M2.300 16c.3-2.800 1.800-3.900 3.800-4.300h3.800c2 .4 3.500 1.500 3.800 4.300z" fill="#2f2b2e"/><path d="M6.700 11.500h2.600L8 16z" fill="#dfe6ea"/><path d="M7.600 12.300h.8l.4 3.700h-1.600z" fill="#5b7f95"/><ellipse cx="8" cy="7.400" rx="2.700" ry="3.700" fill="#f6df94"/><path d="M4.900 6.500c-.4-3 1.300-4.400 3.100-4.400s3.500 1.400 3.100 4.400c-.6-1.300-1.300-1.700-3.100-1.700s-2.500.4-3.100 1.700z" fill="#f7b500"/><rect x="5.600" y="6" width="2" height="1.500" rx=".4" fill="#59728a"/><rect x="8.400" y="6" width="2" height="1.500" rx=".4" fill="#59728a"/><circle cx="8" cy="9.300" r=".4" fill="#d9534f"/></g></svg></div></div>
<div class="bar" style="left:1394.5px;top:750.8px;width:96.5px;background-color:#e8b400;background-image:repeating-linear-gradient(45deg,#c79a00 0,#c79a00 .7px,#e8b400 .7px,#e8b400 8.44px,#c79a00 8.44px,#c79a00 15.48px)"><div class="t"><span class="b">5d</span>Animation</div><div class="s">GT Trailer</div></div>
<div class="vac" style="left:417.6px;top:774.6px;width:45.7px;height:22.6px"><div class="t">Va…</div><div class="av" style="right:3px"><svg viewBox="0 0 16 16"><rect width="16" height="16" fill="#2fb5a6"/><path d="M0 16L4.500 5l3.500 8z" fill="#23907f"/><g transform="translate(-1.28,-1.96) scale(1.16)"><path d="M2.300 16c.3-2.800 1.800-3.900 3.800-4.300h3.800c2 .4 3.500 1.500 3.800 4.300z" fill="#2f2b2e"/><path d="M6.700 11.500h2.600L8 16z" fill="#dfe6ea"/><path d="M7.600 12.300h.8l.4 3.700h-1.600z" fill="#5b7f95"/><ellipse cx="8" cy="7.400" rx="2.700" ry="3.700" fill="#f6df94"/><path d="M4.900 6.500c-.4-3 1.300-4.400 3.100-4.400s3.500 1.400 3.100 4.400c-.6-1.300-1.300-1.700-3.100-1.700s-2.500.4-3.100 1.700z" fill="#f7b500"/><rect x="5.600" y="6" width="2" height="1.500" rx=".4" fill="#59728a"/><rect x="8.400" y="6" width="2" height="1.500" rx=".4" fill="#59728a"/><circle cx="8" cy="9.300" r=".4" fill="#d9534f"/></g></svg></div></div>
</div></div>
<div class="a" style="left:1443.200px;top:44.200px;width:27.800px;height:27.800px;border-radius:50%;background:#985aab;box-shadow:0 1px 3px rgba(0,0,0,.4)"></div>
<svg class="a" style="left:1451.100px;top:52.100px" width="12" height="12" viewBox="0 0 12 12" stroke="#fff" stroke-width="1.900" fill="none"><path d="M6 .3v11.400M.3 6h11.400"/></svg>
</div></div>
</body></html>
